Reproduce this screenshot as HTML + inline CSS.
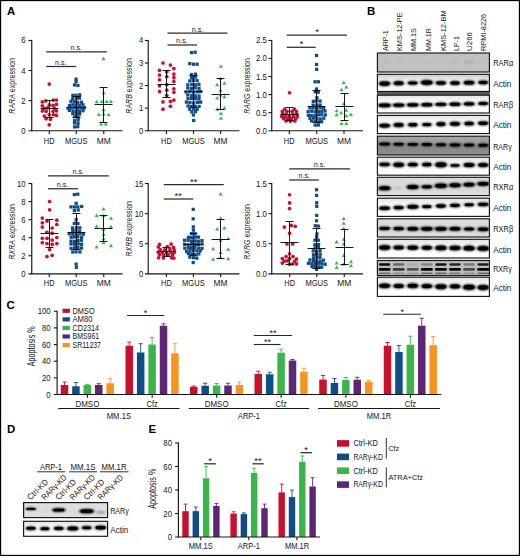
<!DOCTYPE html>
<html><head><meta charset="utf-8"><title>Figure</title>
<style>html,body{margin:0;padding:0;background:#fff;}svg{display:block;font-family:"Liberation Sans",sans-serif;}</style></head><body>
<svg width="520" height="556" viewBox="0 0 520 556">
<defs><filter id="b1" x="-20%" y="-60%" width="140%" height="220%"><feGaussianBlur stdDeviation="0.85"/></filter><filter id="b0" x="-20%" y="-60%" width="140%" height="220%"><feGaussianBlur stdDeviation="0.45"/></filter><filter id="b2" x="-20%" y="-60%" width="140%" height="220%"><feGaussianBlur stdDeviation="1.1"/></filter></defs>
<rect x="0" y="0" width="520" height="556" fill="#fff"/>
<rect x="0.575" y="0.575" width="518.85" height="554.85" fill="none" stroke="#000" stroke-width="1.15"/>
<text x="7" y="15.2" font-size="11.4" text-anchor="start" fill="#000" font-weight="bold" >A</text>
<text x="366.9" y="15.2" font-size="11.4" text-anchor="start" fill="#000" font-weight="bold" >B</text>
<text x="6.6" y="309.3" font-size="11.4" text-anchor="start" fill="#000" font-weight="bold" >C</text>
<text x="7.1" y="432.8" font-size="11.4" text-anchor="start" fill="#000" font-weight="bold" >D</text>
<text x="148.5" y="433.2" font-size="11.4" text-anchor="start" fill="#000" font-weight="bold" >E</text>
<g transform="translate(0 0.45)">
<circle cx="49.22" cy="83.67" r="1.85" fill="#C8102E"/>
<circle cx="42.3" cy="101.49" r="1.85" fill="#C8102E"/>
<circle cx="45.76" cy="100.45" r="1.85" fill="#C8102E"/>
<circle cx="53.38" cy="99.58" r="1.85" fill="#C8102E"/>
<circle cx="56.49" cy="99.58" r="1.85" fill="#C8102E"/>
<circle cx="42.3" cy="105.29" r="1.85" fill="#C8102E"/>
<circle cx="49.22" cy="104.43" r="1.85" fill="#C8102E"/>
<circle cx="53.03" cy="104.95" r="1.85" fill="#C8102E"/>
<circle cx="56.49" cy="103.91" r="1.85" fill="#C8102E"/>
<circle cx="44.03" cy="107.89" r="1.85" fill="#C8102E"/>
<circle cx="47.49" cy="107.37" r="1.85" fill="#C8102E"/>
<circle cx="54.42" cy="107.89" r="1.85" fill="#C8102E"/>
<circle cx="42.3" cy="110.48" r="1.85" fill="#C8102E"/>
<circle cx="46.11" cy="110.83" r="1.85" fill="#C8102E"/>
<circle cx="53.03" cy="110.83" r="1.85" fill="#C8102E"/>
<circle cx="56.49" cy="110.48" r="1.85" fill="#C8102E"/>
<circle cx="44.38" cy="115.67" r="1.85" fill="#C8102E"/>
<circle cx="49.22" cy="114.29" r="1.85" fill="#C8102E"/>
<circle cx="53.38" cy="114.29" r="1.85" fill="#C8102E"/>
<circle cx="56.49" cy="114.98" r="1.85" fill="#C8102E"/>
<circle cx="46.11" cy="118.27" r="1.85" fill="#C8102E"/>
<circle cx="50.44" cy="118.79" r="1.85" fill="#C8102E"/>
<circle cx="49.22" cy="124.33" r="1.85" fill="#C8102E"/>
<rect x="74.45" y="77.09" width="3.25" height="3.25" fill="#0F4D86"/>
<rect x="74.41" y="79.71" width="3.25" height="3.25" fill="#0F4D86"/>
<rect x="72.88" y="82.86" width="3.25" height="3.25" fill="#0F4D86"/>
<rect x="76.3" y="83.43" width="3.25" height="3.25" fill="#0F4D86"/>
<rect x="71.24" y="93.23" width="3.25" height="3.25" fill="#0F4D86"/>
<rect x="74.42" y="93.19" width="3.25" height="3.25" fill="#0F4D86"/>
<rect x="78.14" y="92.77" width="3.25" height="3.25" fill="#0F4D86"/>
<rect x="71.14" y="96.59" width="3.25" height="3.25" fill="#0F4D86"/>
<rect x="74.85" y="95.98" width="3.25" height="3.25" fill="#0F4D86"/>
<rect x="77.92" y="96.04" width="3.25" height="3.25" fill="#0F4D86"/>
<rect x="69.37" y="99.32" width="3.25" height="3.25" fill="#0F4D86"/>
<rect x="72.84" y="99.47" width="3.25" height="3.25" fill="#0F4D86"/>
<rect x="76.11" y="100.32" width="3.25" height="3.25" fill="#0F4D86"/>
<rect x="79.81" y="100.13" width="3.25" height="3.25" fill="#0F4D86"/>
<rect x="67.97" y="103.29" width="3.25" height="3.25" fill="#0F4D86"/>
<rect x="71.21" y="102.74" width="3.25" height="3.25" fill="#0F4D86"/>
<rect x="74.41" y="102.85" width="3.25" height="3.25" fill="#0F4D86"/>
<rect x="77.83" y="103.43" width="3.25" height="3.25" fill="#0F4D86"/>
<rect x="81.29" y="102.69" width="3.25" height="3.25" fill="#0F4D86"/>
<rect x="66.29" y="106.14" width="3.25" height="3.25" fill="#0F4D86"/>
<rect x="69.5" y="105.97" width="3.25" height="3.25" fill="#0F4D86"/>
<rect x="73.05" y="105.56" width="3.25" height="3.25" fill="#0F4D86"/>
<rect x="76.34" y="106.22" width="3.25" height="3.25" fill="#0F4D86"/>
<rect x="79.84" y="105.88" width="3.25" height="3.25" fill="#0F4D86"/>
<rect x="82.89" y="105.64" width="3.25" height="3.25" fill="#0F4D86"/>
<rect x="67.73" y="108.34" width="3.25" height="3.25" fill="#0F4D86"/>
<rect x="71.4" y="109.02" width="3.25" height="3.25" fill="#0F4D86"/>
<rect x="74.62" y="109.34" width="3.25" height="3.25" fill="#0F4D86"/>
<rect x="78.06" y="109.47" width="3.25" height="3.25" fill="#0F4D86"/>
<rect x="81.36" y="108.6" width="3.25" height="3.25" fill="#0F4D86"/>
<rect x="71.18" y="111.63" width="3.25" height="3.25" fill="#0F4D86"/>
<rect x="74.67" y="111.84" width="3.25" height="3.25" fill="#0F4D86"/>
<rect x="77.95" y="111.98" width="3.25" height="3.25" fill="#0F4D86"/>
<rect x="73.17" y="114.68" width="3.25" height="3.25" fill="#0F4D86"/>
<rect x="76.38" y="115.12" width="3.25" height="3.25" fill="#0F4D86"/>
<rect x="73.05" y="118.62" width="3.25" height="3.25" fill="#0F4D86"/>
<rect x="76.55" y="117.92" width="3.25" height="3.25" fill="#0F4D86"/>
<rect x="72.84" y="120.87" width="3.25" height="3.25" fill="#0F4D86"/>
<rect x="76.38" y="121.39" width="3.25" height="3.25" fill="#0F4D86"/>
<rect x="72.93" y="124.84" width="3.25" height="3.25" fill="#0F4D86"/>
<rect x="76.11" y="124.66" width="3.25" height="3.25" fill="#0F4D86"/>
<path d="M103.55 56.29 L105.6 59.8 L101.5 59.8 Z" fill="#3BB54A"/>
<path d="M103.55 90.37 L105.6 93.88 L101.5 93.88 Z" fill="#3BB54A"/>
<path d="M96.63 99.36 L98.68 102.87 L94.58 102.87 Z" fill="#3BB54A"/>
<path d="M101.82 99.02 L103.87 102.53 L99.77 102.53 Z" fill="#3BB54A"/>
<path d="M106.66 99.02 L108.71 102.53 L104.61 102.53 Z" fill="#3BB54A"/>
<path d="M110.99 99.02 L113.04 102.53 L108.94 102.53 Z" fill="#3BB54A"/>
<path d="M98.88 111.99 L100.93 115.5 L96.83 115.5 Z" fill="#3BB54A"/>
<path d="M103.55 107.32 L105.6 110.83 L101.5 110.83 Z" fill="#3BB54A"/>
<path d="M103.55 111.65 L105.6 115.16 L101.5 115.16 Z" fill="#3BB54A"/>
<path d="M108.74 112.34 L110.79 115.85 L106.69 115.85 Z" fill="#3BB54A"/>
<path d="M101.13 121.51 L103.18 125.02 L99.08 125.02 Z" fill="#3BB54A"/>
<path d="M105.8 121.51 L107.85 125.02 L103.75 125.02 Z" fill="#3BB54A"/>
<line x1="49.5" y1="117.05" x2="49.5" y2="100.05" stroke="#000" stroke-width="0.9" />
<line x1="40.5" y1="108.05" x2="58.5" y2="108.05" stroke="#000" stroke-width="0.9" />
<line x1="45.5" y1="117.05" x2="53.5" y2="117.05" stroke="#000" stroke-width="0.9" />
<line x1="45.5" y1="100.05" x2="53.5" y2="100.05" stroke="#000" stroke-width="0.9" />
<line x1="76.5" y1="117.05" x2="76.5" y2="96.05" stroke="#000" stroke-width="0.9" />
<line x1="67.5" y1="107.05" x2="85.5" y2="107.05" stroke="#000" stroke-width="0.9" />
<line x1="72.5" y1="117.05" x2="80.5" y2="117.05" stroke="#000" stroke-width="0.9" />
<line x1="72.5" y1="96.05" x2="80.5" y2="96.05" stroke="#000" stroke-width="0.9" />
<line x1="103.5" y1="122.05" x2="103.5" y2="87.05" stroke="#000" stroke-width="0.9" />
<line x1="94.5" y1="104.05" x2="112.5" y2="104.05" stroke="#000" stroke-width="0.9" />
<line x1="99.5" y1="122.05" x2="107.5" y2="122.05" stroke="#000" stroke-width="0.9" />
<line x1="99.5" y1="87.05" x2="107.5" y2="87.05" stroke="#000" stroke-width="0.9" />
<line x1="31.75" y1="39.5" x2="31.75" y2="130.75" stroke="#161616" stroke-width="1.15" />
<line x1="28.45" y1="130.25" x2="122.5" y2="130.25" stroke="#161616" stroke-width="1.15" />
<text x="25.6" y="133.25" font-size="8.4" text-anchor="end" fill="#161616" textLength="4.32" lengthAdjust="spacingAndGlyphs" >0</text>
<line x1="28.45" y1="100.17" x2="31.75" y2="100.17" stroke="#161616" stroke-width="1.1" />
<text x="25.6" y="103.17" font-size="8.4" text-anchor="end" fill="#161616" textLength="4.32" lengthAdjust="spacingAndGlyphs" >2</text>
<line x1="28.45" y1="70.08" x2="31.75" y2="70.08" stroke="#161616" stroke-width="1.1" />
<text x="25.6" y="73.08" font-size="8.4" text-anchor="end" fill="#161616" textLength="4.32" lengthAdjust="spacingAndGlyphs" >4</text>
<line x1="28.45" y1="40" x2="31.75" y2="40" stroke="#161616" stroke-width="1.1" />
<text x="25.6" y="43" font-size="8.4" text-anchor="end" fill="#161616" textLength="4.32" lengthAdjust="spacingAndGlyphs" >6</text>
<line x1="49.25" y1="130.25" x2="49.25" y2="133.45" stroke="#161616" stroke-width="1.1" />
<text x="49.25" y="143.2" font-size="8.4" text-anchor="middle" fill="#161616" textLength="10.8" lengthAdjust="spacingAndGlyphs" >HD</text>
<line x1="76.25" y1="130.25" x2="76.25" y2="133.45" stroke="#161616" stroke-width="1.1" />
<text x="76.25" y="143.2" font-size="8.4" text-anchor="middle" fill="#161616" textLength="22.6" lengthAdjust="spacingAndGlyphs" >MGUS</text>
<line x1="103.75" y1="130.25" x2="103.75" y2="133.45" stroke="#161616" stroke-width="1.1" />
<text x="103.75" y="143.2" font-size="8.4" text-anchor="middle" fill="#161616" textLength="14" lengthAdjust="spacingAndGlyphs" >MM</text>
<text transform="translate(15 85.5) rotate(-90)" font-size="9.8" text-anchor="middle" fill="#161616" textLength="55.5" lengthAdjust="spacingAndGlyphs"><tspan font-style="italic">RARA</tspan> expression</text>
</g>
<line x1="46.2" y1="51.9" x2="106.8" y2="51.9" stroke="#2c2c2c" stroke-width="1.25" />
<text x="76.25" y="49.9" font-size="7.6" text-anchor="middle" fill="#161616" textLength="11.5" lengthAdjust="spacingAndGlyphs" >n.s.</text>
<line x1="46.2" y1="66.5" x2="75.9" y2="66.5" stroke="#2c2c2c" stroke-width="1.25" />
<text x="60.75" y="64.5" font-size="7.6" text-anchor="middle" fill="#161616" textLength="11.5" lengthAdjust="spacingAndGlyphs" >n.s.</text>
<g transform="translate(0.7 0.45)">
<circle cx="162.28" cy="62.56" r="1.85" fill="#C8102E"/>
<circle cx="169.72" cy="64.64" r="1.85" fill="#C8102E"/>
<circle cx="173.18" cy="68.1" r="1.85" fill="#C8102E"/>
<circle cx="158.82" cy="69.83" r="1.85" fill="#C8102E"/>
<circle cx="166.08" cy="71.56" r="1.85" fill="#C8102E"/>
<circle cx="173.18" cy="73.63" r="1.85" fill="#C8102E"/>
<circle cx="158.82" cy="74.67" r="1.85" fill="#C8102E"/>
<circle cx="166.08" cy="76.23" r="1.85" fill="#C8102E"/>
<circle cx="173.18" cy="77.27" r="1.85" fill="#C8102E"/>
<circle cx="158.82" cy="79.34" r="1.85" fill="#C8102E"/>
<circle cx="173.18" cy="81.07" r="1.85" fill="#C8102E"/>
<circle cx="166.08" cy="84.19" r="1.85" fill="#C8102E"/>
<circle cx="158.82" cy="85.4" r="1.85" fill="#C8102E"/>
<circle cx="173.18" cy="88.34" r="1.85" fill="#C8102E"/>
<circle cx="166.08" cy="89.72" r="1.85" fill="#C8102E"/>
<circle cx="158.82" cy="91.11" r="1.85" fill="#C8102E"/>
<circle cx="173.18" cy="91.8" r="1.85" fill="#C8102E"/>
<circle cx="166.08" cy="94.91" r="1.85" fill="#C8102E"/>
<circle cx="173.18" cy="99.58" r="1.85" fill="#C8102E"/>
<circle cx="162.28" cy="101.49" r="1.85" fill="#C8102E"/>
<circle cx="169.72" cy="100.97" r="1.85" fill="#C8102E"/>
<circle cx="169.72" cy="105.81" r="1.85" fill="#C8102E"/>
<circle cx="162.28" cy="108.75" r="1.85" fill="#C8102E"/>
<rect x="189.18" y="50.54" width="3.25" height="3.25" fill="#0F4D86"/>
<rect x="192.79" y="50.15" width="3.25" height="3.25" fill="#0F4D86"/>
<rect x="187.46" y="61.57" width="3.25" height="3.25" fill="#0F4D86"/>
<rect x="191.18" y="62.14" width="3.25" height="3.25" fill="#0F4D86"/>
<rect x="194.79" y="62.17" width="3.25" height="3.25" fill="#0F4D86"/>
<rect x="189.15" y="72.51" width="3.25" height="3.25" fill="#0F4D86"/>
<rect x="193.16" y="72.08" width="3.25" height="3.25" fill="#0F4D86"/>
<rect x="189.21" y="75.6" width="3.25" height="3.25" fill="#0F4D86"/>
<rect x="193.22" y="75" width="3.25" height="3.25" fill="#0F4D86"/>
<rect x="187.47" y="78.89" width="3.25" height="3.25" fill="#0F4D86"/>
<rect x="190.95" y="78.42" width="3.25" height="3.25" fill="#0F4D86"/>
<rect x="194.72" y="78.56" width="3.25" height="3.25" fill="#0F4D86"/>
<rect x="185.51" y="82.8" width="3.25" height="3.25" fill="#0F4D86"/>
<rect x="189.51" y="82.6" width="3.25" height="3.25" fill="#0F4D86"/>
<rect x="193.04" y="82.76" width="3.25" height="3.25" fill="#0F4D86"/>
<rect x="196.59" y="82.21" width="3.25" height="3.25" fill="#0F4D86"/>
<rect x="185.48" y="85.92" width="3.25" height="3.25" fill="#0F4D86"/>
<rect x="189.2" y="86.51" width="3.25" height="3.25" fill="#0F4D86"/>
<rect x="192.96" y="85.77" width="3.25" height="3.25" fill="#0F4D86"/>
<rect x="196.69" y="86.2" width="3.25" height="3.25" fill="#0F4D86"/>
<rect x="183.77" y="89.87" width="3.25" height="3.25" fill="#0F4D86"/>
<rect x="187.62" y="89.46" width="3.25" height="3.25" fill="#0F4D86"/>
<rect x="191.21" y="90.12" width="3.25" height="3.25" fill="#0F4D86"/>
<rect x="195.01" y="89.79" width="3.25" height="3.25" fill="#0F4D86"/>
<rect x="198.37" y="89.54" width="3.25" height="3.25" fill="#0F4D86"/>
<rect x="185.51" y="92.85" width="3.25" height="3.25" fill="#0F4D86"/>
<rect x="189.48" y="93.53" width="3.25" height="3.25" fill="#0F4D86"/>
<rect x="192.99" y="93.85" width="3.25" height="3.25" fill="#0F4D86"/>
<rect x="196.73" y="93.98" width="3.25" height="3.25" fill="#0F4D86"/>
<rect x="185.74" y="96.49" width="3.25" height="3.25" fill="#0F4D86"/>
<rect x="189.26" y="96.36" width="3.25" height="3.25" fill="#0F4D86"/>
<rect x="193.05" y="96.58" width="3.25" height="3.25" fill="#0F4D86"/>
<rect x="196.63" y="96.72" width="3.25" height="3.25" fill="#0F4D86"/>
<rect x="184.1" y="100.01" width="3.25" height="3.25" fill="#0F4D86"/>
<rect x="187.61" y="100.45" width="3.25" height="3.25" fill="#0F4D86"/>
<rect x="191.28" y="100.95" width="3.25" height="3.25" fill="#0F4D86"/>
<rect x="195.07" y="100.25" width="3.25" height="3.25" fill="#0F4D86"/>
<rect x="198.37" y="100.04" width="3.25" height="3.25" fill="#0F4D86"/>
<rect x="185.78" y="103.94" width="3.25" height="3.25" fill="#0F4D86"/>
<rect x="189.33" y="104.38" width="3.25" height="3.25" fill="#0F4D86"/>
<rect x="192.81" y="104.2" width="3.25" height="3.25" fill="#0F4D86"/>
<rect x="196.78" y="104.34" width="3.25" height="3.25" fill="#0F4D86"/>
<rect x="187.4" y="107.18" width="3.25" height="3.25" fill="#0F4D86"/>
<rect x="191.36" y="106.87" width="3.25" height="3.25" fill="#0F4D86"/>
<rect x="194.8" y="107.24" width="3.25" height="3.25" fill="#0F4D86"/>
<rect x="189.54" y="109.84" width="3.25" height="3.25" fill="#0F4D86"/>
<rect x="193.18" y="109.51" width="3.25" height="3.25" fill="#0F4D86"/>
<rect x="191.13" y="112.87" width="3.25" height="3.25" fill="#0F4D86"/>
<rect x="191.37" y="118.42" width="3.25" height="3.25" fill="#0F4D86"/>
<path d="M220.23 63.9 L222.28 67.41 L218.18 67.41 Z" fill="#3BB54A"/>
<path d="M219.89 76.01 L221.94 79.52 L217.84 79.52 Z" fill="#3BB54A"/>
<path d="M216.43 82.24 L218.48 85.75 L214.38 85.75 Z" fill="#3BB54A"/>
<path d="M223.69 80.85 L225.74 84.36 L221.64 84.36 Z" fill="#3BB54A"/>
<path d="M219.89 87.77 L221.94 91.28 L217.84 91.28 Z" fill="#3BB54A"/>
<path d="M216.43 95.56 L218.48 99.07 L214.38 99.07 Z" fill="#3BB54A"/>
<path d="M223.69 94.17 L225.74 97.68 L221.64 97.68 Z" fill="#3BB54A"/>
<path d="M219.89 92.62 L221.94 96.13 L217.84 96.13 Z" fill="#3BB54A"/>
<path d="M216.43 106.8 L218.48 110.31 L214.38 110.31 Z" fill="#3BB54A"/>
<path d="M223.69 105.42 L225.74 108.93 L221.64 108.93 Z" fill="#3BB54A"/>
<path d="M220.23 111.13 L222.28 114.64 L218.18 114.64 Z" fill="#3BB54A"/>
<path d="M220.23 115.8 L222.28 119.31 L218.18 119.31 Z" fill="#3BB54A"/>
<line x1="165.8" y1="97.05" x2="165.8" y2="70.05" stroke="#000" stroke-width="0.9" />
<line x1="156.8" y1="84.05" x2="174.8" y2="84.05" stroke="#000" stroke-width="0.9" />
<line x1="161.8" y1="97.05" x2="169.8" y2="97.05" stroke="#000" stroke-width="0.9" />
<line x1="161.8" y1="70.05" x2="169.8" y2="70.05" stroke="#000" stroke-width="0.9" />
<line x1="192.8" y1="107.05" x2="192.8" y2="75.05" stroke="#000" stroke-width="0.9" />
<line x1="183.8" y1="91.05" x2="201.8" y2="91.05" stroke="#000" stroke-width="0.9" />
<line x1="188.8" y1="107.05" x2="196.8" y2="107.05" stroke="#000" stroke-width="0.9" />
<line x1="188.8" y1="75.05" x2="196.8" y2="75.05" stroke="#000" stroke-width="0.9" />
<line x1="219.8" y1="109.05" x2="219.8" y2="78.05" stroke="#000" stroke-width="0.9" />
<line x1="210.8" y1="94.05" x2="228.8" y2="94.05" stroke="#000" stroke-width="0.9" />
<line x1="215.8" y1="109.05" x2="223.8" y2="109.05" stroke="#000" stroke-width="0.9" />
<line x1="215.8" y1="78.05" x2="223.8" y2="78.05" stroke="#000" stroke-width="0.9" />
<line x1="147.5" y1="39.5" x2="147.5" y2="130.75" stroke="#161616" stroke-width="1.15" />
<line x1="144.2" y1="130.25" x2="238.75" y2="130.25" stroke="#161616" stroke-width="1.15" />
<text x="142.6" y="133.25" font-size="8.4" text-anchor="end" fill="#161616" textLength="4.32" lengthAdjust="spacingAndGlyphs" >0</text>
<line x1="144.2" y1="107.69" x2="147.5" y2="107.69" stroke="#161616" stroke-width="1.1" />
<text x="142.6" y="110.69" font-size="8.4" text-anchor="end" fill="#161616" textLength="4.32" lengthAdjust="spacingAndGlyphs" >1</text>
<line x1="144.2" y1="85.12" x2="147.5" y2="85.12" stroke="#161616" stroke-width="1.1" />
<text x="142.6" y="88.12" font-size="8.4" text-anchor="end" fill="#161616" textLength="4.32" lengthAdjust="spacingAndGlyphs" >2</text>
<line x1="144.2" y1="62.56" x2="147.5" y2="62.56" stroke="#161616" stroke-width="1.1" />
<text x="142.6" y="65.56" font-size="8.4" text-anchor="end" fill="#161616" textLength="4.32" lengthAdjust="spacingAndGlyphs" >3</text>
<line x1="144.2" y1="40" x2="147.5" y2="40" stroke="#161616" stroke-width="1.1" />
<text x="142.6" y="43" font-size="8.4" text-anchor="end" fill="#161616" textLength="4.32" lengthAdjust="spacingAndGlyphs" >4</text>
<line x1="165.7" y1="130.25" x2="165.7" y2="133.45" stroke="#161616" stroke-width="1.1" />
<text x="165.7" y="143.2" font-size="8.4" text-anchor="middle" fill="#161616" textLength="10.8" lengthAdjust="spacingAndGlyphs" >HD</text>
<line x1="192.8" y1="130.25" x2="192.8" y2="133.45" stroke="#161616" stroke-width="1.1" />
<text x="192.8" y="143.2" font-size="8.4" text-anchor="middle" fill="#161616" textLength="22.6" lengthAdjust="spacingAndGlyphs" >MGUS</text>
<line x1="219.9" y1="130.25" x2="219.9" y2="133.45" stroke="#161616" stroke-width="1.1" />
<text x="219.9" y="143.2" font-size="8.4" text-anchor="middle" fill="#161616" textLength="14" lengthAdjust="spacingAndGlyphs" >MM</text>
<text transform="translate(131.2 85.5) rotate(-90)" font-size="9.8" text-anchor="middle" fill="#161616" textLength="55.5" lengthAdjust="spacingAndGlyphs"><tspan font-style="italic">RARB</tspan> expression</text>
</g>
<line x1="167.5" y1="33" x2="227.5" y2="33" stroke="#2c2c2c" stroke-width="1.25" />
<text x="197.5" y="31.7" font-size="7.6" text-anchor="middle" fill="#161616" textLength="11.5" lengthAdjust="spacingAndGlyphs" >n.s.</text>
<line x1="167.5" y1="45" x2="197" y2="45" stroke="#2c2c2c" stroke-width="1.25" />
<text x="181.75" y="43.45" font-size="7.6" text-anchor="middle" fill="#161616" textLength="11.5" lengthAdjust="spacingAndGlyphs" >n.s.</text>
<g transform="translate(0.5 0.45)">
<circle cx="289.07" cy="92.32" r="1.85" fill="#C8102E"/>
<circle cx="284.23" cy="108.75" r="1.85" fill="#C8102E"/>
<circle cx="293.92" cy="108.75" r="1.85" fill="#C8102E"/>
<circle cx="281.8" cy="111" r="1.85" fill="#C8102E"/>
<circle cx="286.48" cy="110.83" r="1.85" fill="#C8102E"/>
<circle cx="291.67" cy="110.83" r="1.85" fill="#C8102E"/>
<circle cx="295.99" cy="111.18" r="1.85" fill="#C8102E"/>
<circle cx="282.15" cy="113.6" r="1.85" fill="#C8102E"/>
<circle cx="285.61" cy="113.43" r="1.85" fill="#C8102E"/>
<circle cx="292.53" cy="113.6" r="1.85" fill="#C8102E"/>
<circle cx="296.34" cy="113.77" r="1.85" fill="#C8102E"/>
<circle cx="281.29" cy="116.02" r="1.85" fill="#C8102E"/>
<circle cx="284.75" cy="116.19" r="1.85" fill="#C8102E"/>
<circle cx="288.72" cy="115.85" r="1.85" fill="#C8102E"/>
<circle cx="292.88" cy="116.02" r="1.85" fill="#C8102E"/>
<circle cx="296.86" cy="116.19" r="1.85" fill="#C8102E"/>
<circle cx="283.02" cy="118.27" r="1.85" fill="#C8102E"/>
<circle cx="286.99" cy="118.44" r="1.85" fill="#C8102E"/>
<circle cx="290.8" cy="118.27" r="1.85" fill="#C8102E"/>
<circle cx="295.13" cy="118.44" r="1.85" fill="#C8102E"/>
<circle cx="285.61" cy="120.52" r="1.85" fill="#C8102E"/>
<circle cx="289.94" cy="120.69" r="1.85" fill="#C8102E"/>
<circle cx="294.26" cy="120.52" r="1.85" fill="#C8102E"/>
<rect x="314.45" y="53.39" width="3.25" height="3.25" fill="#0F4D86"/>
<rect x="314.41" y="62.38" width="3.25" height="3.25" fill="#0F4D86"/>
<rect x="314.56" y="67.21" width="3.25" height="3.25" fill="#0F4D86"/>
<rect x="312.93" y="79.7" width="3.25" height="3.25" fill="#0F4D86"/>
<rect x="316.29" y="79.72" width="3.25" height="3.25" fill="#0F4D86"/>
<rect x="314.42" y="86.9" width="3.25" height="3.25" fill="#0F4D86"/>
<rect x="313.09" y="89.73" width="3.25" height="3.25" fill="#0F4D86"/>
<rect x="316.19" y="90.09" width="3.25" height="3.25" fill="#0F4D86"/>
<rect x="314.85" y="95.62" width="3.25" height="3.25" fill="#0F4D86"/>
<rect x="311.17" y="99.29" width="3.25" height="3.25" fill="#0F4D86"/>
<rect x="314.4" y="98.81" width="3.25" height="3.25" fill="#0F4D86"/>
<rect x="317.92" y="98.95" width="3.25" height="3.25" fill="#0F4D86"/>
<rect x="311.03" y="103.06" width="3.25" height="3.25" fill="#0F4D86"/>
<rect x="314.78" y="102.86" width="3.25" height="3.25" fill="#0F4D86"/>
<rect x="318.07" y="103.02" width="3.25" height="3.25" fill="#0F4D86"/>
<rect x="307.76" y="105.72" width="3.25" height="3.25" fill="#0F4D86"/>
<rect x="311.01" y="105.82" width="3.25" height="3.25" fill="#0F4D86"/>
<rect x="314.48" y="106.41" width="3.25" height="3.25" fill="#0F4D86"/>
<rect x="317.99" y="105.67" width="3.25" height="3.25" fill="#0F4D86"/>
<rect x="321.47" y="106.11" width="3.25" height="3.25" fill="#0F4D86"/>
<rect x="306.02" y="109.55" width="3.25" height="3.25" fill="#0F4D86"/>
<rect x="309.62" y="109.14" width="3.25" height="3.25" fill="#0F4D86"/>
<rect x="312.96" y="109.8" width="3.25" height="3.25" fill="#0F4D86"/>
<rect x="316.51" y="109.46" width="3.25" height="3.25" fill="#0F4D86"/>
<rect x="319.62" y="109.22" width="3.25" height="3.25" fill="#0F4D86"/>
<rect x="322.93" y="108.92" width="3.25" height="3.25" fill="#0F4D86"/>
<rect x="306.25" y="113.2" width="3.25" height="3.25" fill="#0F4D86"/>
<rect x="309.52" y="113.52" width="3.25" height="3.25" fill="#0F4D86"/>
<rect x="313.01" y="113.65" width="3.25" height="3.25" fill="#0F4D86"/>
<rect x="316.36" y="112.78" width="3.25" height="3.25" fill="#0F4D86"/>
<rect x="319.63" y="112.65" width="3.25" height="3.25" fill="#0F4D86"/>
<rect x="323.17" y="112.87" width="3.25" height="3.25" fill="#0F4D86"/>
<rect x="307.8" y="116.26" width="3.25" height="3.25" fill="#0F4D86"/>
<rect x="311.45" y="115.94" width="3.25" height="3.25" fill="#0F4D86"/>
<rect x="314.71" y="116.38" width="3.25" height="3.25" fill="#0F4D86"/>
<rect x="318.13" y="116.88" width="3.25" height="3.25" fill="#0F4D86"/>
<rect x="321.67" y="116.17" width="3.25" height="3.25" fill="#0F4D86"/>
<rect x="309.42" y="118.85" width="3.25" height="3.25" fill="#0F4D86"/>
<rect x="313.01" y="119.38" width="3.25" height="3.25" fill="#0F4D86"/>
<rect x="316.31" y="119.81" width="3.25" height="3.25" fill="#0F4D86"/>
<rect x="319.53" y="119.64" width="3.25" height="3.25" fill="#0F4D86"/>
<rect x="313.06" y="123.02" width="3.25" height="3.25" fill="#0F4D86"/>
<rect x="316.2" y="122.93" width="3.25" height="3.25" fill="#0F4D86"/>
<path d="M343.22 79.99 L345.27 83.5 L341.17 83.5 Z" fill="#3BB54A"/>
<path d="M345.82 84.66 L347.87 88.17 L343.77 88.17 Z" fill="#3BB54A"/>
<path d="M340.97 87.25 L343.02 90.76 L338.92 90.76 Z" fill="#3BB54A"/>
<path d="M343.22 101.27 L345.27 104.78 L341.17 104.78 Z" fill="#3BB54A"/>
<path d="M336.13 108.19 L338.18 111.7 L334.08 111.7 Z" fill="#3BB54A"/>
<path d="M345.82 107.67 L347.87 111.18 L343.77 111.18 Z" fill="#3BB54A"/>
<path d="M340.63 110.26 L342.68 113.77 L338.58 113.77 Z" fill="#3BB54A"/>
<path d="M336.13 112.34 L338.18 115.85 L334.08 115.85 Z" fill="#3BB54A"/>
<path d="M345.82 113.21 L347.87 116.72 L343.77 116.72 Z" fill="#3BB54A"/>
<path d="M350.49 111.99 L352.54 115.5 L348.44 115.5 Z" fill="#3BB54A"/>
<path d="M340.97 121.16 L343.02 124.67 L338.92 124.67 Z" fill="#3BB54A"/>
<path d="M345.82 121.16 L347.87 124.67 L343.77 124.67 Z" fill="#3BB54A"/>
<line x1="289" y1="120.05" x2="289" y2="107.05" stroke="#000" stroke-width="0.9" />
<line x1="280" y1="114.05" x2="298" y2="114.05" stroke="#000" stroke-width="0.9" />
<line x1="285" y1="120.05" x2="293" y2="120.05" stroke="#000" stroke-width="0.9" />
<line x1="285" y1="107.05" x2="293" y2="107.05" stroke="#000" stroke-width="0.9" />
<line x1="316" y1="122.05" x2="316" y2="90.05" stroke="#000" stroke-width="0.9" />
<line x1="307" y1="106.05" x2="325" y2="106.05" stroke="#000" stroke-width="0.9" />
<line x1="312" y1="122.05" x2="320" y2="122.05" stroke="#000" stroke-width="0.9" />
<line x1="312" y1="90.05" x2="320" y2="90.05" stroke="#000" stroke-width="0.9" />
<line x1="344" y1="120.05" x2="344" y2="93.05" stroke="#000" stroke-width="0.9" />
<line x1="335" y1="106.05" x2="353" y2="106.05" stroke="#000" stroke-width="0.9" />
<line x1="340" y1="120.05" x2="348" y2="120.05" stroke="#000" stroke-width="0.9" />
<line x1="340" y1="93.05" x2="348" y2="93.05" stroke="#000" stroke-width="0.9" />
<line x1="271.25" y1="39.5" x2="271.25" y2="130.75" stroke="#161616" stroke-width="1.15" />
<line x1="267.95" y1="130.25" x2="362.5" y2="130.25" stroke="#161616" stroke-width="1.15" />
<text x="266.4" y="133.25" font-size="8.4" text-anchor="end" fill="#161616" textLength="10.8" lengthAdjust="spacingAndGlyphs" >0.0</text>
<line x1="267.95" y1="112.2" x2="271.25" y2="112.2" stroke="#161616" stroke-width="1.1" />
<text x="266.4" y="115.2" font-size="8.4" text-anchor="end" fill="#161616" textLength="10.8" lengthAdjust="spacingAndGlyphs" >0.5</text>
<line x1="267.95" y1="94.15" x2="271.25" y2="94.15" stroke="#161616" stroke-width="1.1" />
<text x="266.4" y="97.15" font-size="8.4" text-anchor="end" fill="#161616" textLength="10.8" lengthAdjust="spacingAndGlyphs" >1.0</text>
<line x1="267.95" y1="76.1" x2="271.25" y2="76.1" stroke="#161616" stroke-width="1.1" />
<text x="266.4" y="79.1" font-size="8.4" text-anchor="end" fill="#161616" textLength="10.8" lengthAdjust="spacingAndGlyphs" >1.5</text>
<line x1="267.95" y1="58.05" x2="271.25" y2="58.05" stroke="#161616" stroke-width="1.1" />
<text x="266.4" y="61.05" font-size="8.4" text-anchor="end" fill="#161616" textLength="10.8" lengthAdjust="spacingAndGlyphs" >2.0</text>
<line x1="267.95" y1="40" x2="271.25" y2="40" stroke="#161616" stroke-width="1.1" />
<text x="266.4" y="43" font-size="8.4" text-anchor="end" fill="#161616" textLength="10.8" lengthAdjust="spacingAndGlyphs" >2.5</text>
<line x1="288.75" y1="130.25" x2="288.75" y2="133.45" stroke="#161616" stroke-width="1.1" />
<text x="288.75" y="143.2" font-size="8.4" text-anchor="middle" fill="#161616" textLength="10.8" lengthAdjust="spacingAndGlyphs" >HD</text>
<line x1="316.25" y1="130.25" x2="316.25" y2="133.45" stroke="#161616" stroke-width="1.1" />
<text x="316.25" y="143.2" font-size="8.4" text-anchor="middle" fill="#161616" textLength="22.6" lengthAdjust="spacingAndGlyphs" >MGUS</text>
<line x1="343.5" y1="130.25" x2="343.5" y2="133.45" stroke="#161616" stroke-width="1.1" />
<text x="343.5" y="143.2" font-size="8.4" text-anchor="middle" fill="#161616" textLength="14" lengthAdjust="spacingAndGlyphs" >MM</text>
<text transform="translate(249 85.5) rotate(-90)" font-size="9.8" text-anchor="middle" fill="#161616" textLength="55.5" lengthAdjust="spacingAndGlyphs"><tspan font-style="italic">RARG</tspan> expression</text>
</g>
<line x1="286.75" y1="35" x2="347" y2="35" stroke="#2c2c2c" stroke-width="1.25" />
<text x="317" y="34.95" font-size="9.5" text-anchor="middle" fill="#161616" >*</text>
<line x1="286.75" y1="47.3" x2="315.75" y2="47.3" stroke="#2c2c2c" stroke-width="1.25" />
<text x="301.25" y="46.9" font-size="9.5" text-anchor="middle" fill="#161616" >*</text>
<g transform="translate(0 0.3)">
<circle cx="49.57" cy="201.21" r="1.85" fill="#C8102E"/>
<circle cx="49.57" cy="209.52" r="1.85" fill="#C8102E"/>
<circle cx="42.3" cy="217.82" r="1.85" fill="#C8102E"/>
<circle cx="46.98" cy="220.76" r="1.85" fill="#C8102E"/>
<circle cx="56.84" cy="219.9" r="1.85" fill="#C8102E"/>
<circle cx="42.3" cy="222.49" r="1.85" fill="#C8102E"/>
<circle cx="56.84" cy="224.22" r="1.85" fill="#C8102E"/>
<circle cx="42.3" cy="226.82" r="1.85" fill="#C8102E"/>
<circle cx="52.17" cy="227.68" r="1.85" fill="#C8102E"/>
<circle cx="46.98" cy="232.01" r="1.85" fill="#C8102E"/>
<circle cx="52.17" cy="232.87" r="1.85" fill="#C8102E"/>
<circle cx="42.3" cy="238.06" r="1.85" fill="#C8102E"/>
<circle cx="56.84" cy="237.2" r="1.85" fill="#C8102E"/>
<circle cx="46.98" cy="238.06" r="1.85" fill="#C8102E"/>
<circle cx="52.17" cy="239.79" r="1.85" fill="#C8102E"/>
<circle cx="42.3" cy="242.39" r="1.85" fill="#C8102E"/>
<circle cx="56.84" cy="243.25" r="1.85" fill="#C8102E"/>
<circle cx="46.98" cy="243.25" r="1.85" fill="#C8102E"/>
<circle cx="52.17" cy="244.12" r="1.85" fill="#C8102E"/>
<circle cx="49.57" cy="249.31" r="1.85" fill="#C8102E"/>
<circle cx="46.98" cy="256.23" r="1.85" fill="#C8102E"/>
<circle cx="52.17" cy="255.02" r="1.85" fill="#C8102E"/>
<rect x="72.7" y="192.67" width="3.25" height="3.25" fill="#0F4D86"/>
<rect x="76.16" y="192.27" width="3.25" height="3.25" fill="#0F4D86"/>
<rect x="74.56" y="201.35" width="3.25" height="3.25" fill="#0F4D86"/>
<rect x="69.38" y="204.99" width="3.25" height="3.25" fill="#0F4D86"/>
<rect x="72.84" y="205.01" width="3.25" height="3.25" fill="#0F4D86"/>
<rect x="76.17" y="204.97" width="3.25" height="3.25" fill="#0F4D86"/>
<rect x="80.04" y="204.55" width="3.25" height="3.25" fill="#0F4D86"/>
<rect x="72.74" y="208.7" width="3.25" height="3.25" fill="#0F4D86"/>
<rect x="76.6" y="208.1" width="3.25" height="3.25" fill="#0F4D86"/>
<rect x="74.57" y="217.81" width="3.25" height="3.25" fill="#0F4D86"/>
<rect x="72.65" y="221.49" width="3.25" height="3.25" fill="#0F4D86"/>
<rect x="76.27" y="221.63" width="3.25" height="3.25" fill="#0F4D86"/>
<rect x="70.93" y="226" width="3.25" height="3.25" fill="#0F4D86"/>
<rect x="74.78" y="225.81" width="3.25" height="3.25" fill="#0F4D86"/>
<rect x="78.17" y="225.96" width="3.25" height="3.25" fill="#0F4D86"/>
<rect x="71.06" y="228.75" width="3.25" height="3.25" fill="#0F4D86"/>
<rect x="74.41" y="228.86" width="3.25" height="3.25" fill="#0F4D86"/>
<rect x="77.98" y="229.44" width="3.25" height="3.25" fill="#0F4D86"/>
<rect x="67.59" y="231.77" width="3.25" height="3.25" fill="#0F4D86"/>
<rect x="71.17" y="232.21" width="3.25" height="3.25" fill="#0F4D86"/>
<rect x="74.52" y="232.04" width="3.25" height="3.25" fill="#0F4D86"/>
<rect x="78.22" y="231.63" width="3.25" height="3.25" fill="#0F4D86"/>
<rect x="81.66" y="232.29" width="3.25" height="3.25" fill="#0F4D86"/>
<rect x="69.56" y="235.29" width="3.25" height="3.25" fill="#0F4D86"/>
<rect x="72.77" y="235.05" width="3.25" height="3.25" fill="#0F4D86"/>
<rect x="76.18" y="234.75" width="3.25" height="3.25" fill="#0F4D86"/>
<rect x="80" y="235.42" width="3.25" height="3.25" fill="#0F4D86"/>
<rect x="69.37" y="239.26" width="3.25" height="3.25" fill="#0F4D86"/>
<rect x="72.96" y="239.4" width="3.25" height="3.25" fill="#0F4D86"/>
<rect x="76.41" y="238.53" width="3.25" height="3.25" fill="#0F4D86"/>
<rect x="79.78" y="238.39" width="3.25" height="3.25" fill="#0F4D86"/>
<rect x="69.42" y="242.13" width="3.25" height="3.25" fill="#0F4D86"/>
<rect x="72.85" y="242.27" width="3.25" height="3.25" fill="#0F4D86"/>
<rect x="76.6" y="241.96" width="3.25" height="3.25" fill="#0F4D86"/>
<rect x="79.96" y="242.39" width="3.25" height="3.25" fill="#0F4D86"/>
<rect x="69.48" y="246.5" width="3.25" height="3.25" fill="#0F4D86"/>
<rect x="73.12" y="245.8" width="3.25" height="3.25" fill="#0F4D86"/>
<rect x="76.27" y="245.59" width="3.25" height="3.25" fill="#0F4D86"/>
<rect x="79.96" y="246.11" width="3.25" height="3.25" fill="#0F4D86"/>
<rect x="71.11" y="250.07" width="3.25" height="3.25" fill="#0F4D86"/>
<rect x="74.43" y="249.89" width="3.25" height="3.25" fill="#0F4D86"/>
<rect x="78.26" y="250.02" width="3.25" height="3.25" fill="#0F4D86"/>
<rect x="74.5" y="262.21" width="3.25" height="3.25" fill="#0F4D86"/>
<rect x="74.81" y="265.42" width="3.25" height="3.25" fill="#0F4D86"/>
<path d="M103.55 206.7 L105.6 210.21 L101.5 210.21 Z" fill="#3BB54A"/>
<path d="M96.63 213.1 L98.68 216.61 L94.58 216.61 Z" fill="#3BB54A"/>
<path d="M103.55 213.1 L105.6 216.61 L101.5 216.61 Z" fill="#3BB54A"/>
<path d="M110.99 215.87 L113.04 219.38 L108.94 219.38 Z" fill="#3BB54A"/>
<path d="M96.63 224 L98.68 227.51 L94.58 227.51 Z" fill="#3BB54A"/>
<path d="M110.99 224.52 L113.04 228.03 L108.94 228.03 Z" fill="#3BB54A"/>
<path d="M103.55 226.94 L105.6 230.45 L101.5 230.45 Z" fill="#3BB54A"/>
<path d="M103.55 232.13 L105.6 235.64 L101.5 235.64 Z" fill="#3BB54A"/>
<path d="M103.55 236.46 L105.6 239.97 L101.5 239.97 Z" fill="#3BB54A"/>
<path d="M103.55 240.44 L105.6 243.95 L101.5 243.95 Z" fill="#3BB54A"/>
<path d="M96.63 244.76 L98.68 248.27 L94.58 248.27 Z" fill="#3BB54A"/>
<path d="M110.99 243.38 L113.04 246.89 L108.94 246.89 Z" fill="#3BB54A"/>
<line x1="49.5" y1="247.2" x2="49.5" y2="219.2" stroke="#000" stroke-width="0.9" />
<line x1="40.5" y1="233.2" x2="58.5" y2="233.2" stroke="#000" stroke-width="0.9" />
<line x1="45.5" y1="247.2" x2="53.5" y2="247.2" stroke="#000" stroke-width="0.9" />
<line x1="45.5" y1="219.2" x2="53.5" y2="219.2" stroke="#000" stroke-width="0.9" />
<line x1="76.5" y1="249.2" x2="76.5" y2="213.2" stroke="#000" stroke-width="0.9" />
<line x1="67.5" y1="232.2" x2="85.5" y2="232.2" stroke="#000" stroke-width="0.9" />
<line x1="72.5" y1="249.2" x2="80.5" y2="249.2" stroke="#000" stroke-width="0.9" />
<line x1="72.5" y1="213.2" x2="80.5" y2="213.2" stroke="#000" stroke-width="0.9" />
<line x1="103.5" y1="241.2" x2="103.5" y2="215.2" stroke="#000" stroke-width="0.9" />
<line x1="94.5" y1="228.2" x2="112.5" y2="228.2" stroke="#000" stroke-width="0.9" />
<line x1="99.5" y1="241.2" x2="107.5" y2="241.2" stroke="#000" stroke-width="0.9" />
<line x1="99.5" y1="215.2" x2="107.5" y2="215.2" stroke="#000" stroke-width="0.9" />
<line x1="31.75" y1="182.75" x2="31.75" y2="274" stroke="#161616" stroke-width="1.15" />
<line x1="28.45" y1="273.5" x2="122.5" y2="273.5" stroke="#161616" stroke-width="1.15" />
<text x="25.6" y="276.5" font-size="8.4" text-anchor="end" fill="#161616" textLength="4.32" lengthAdjust="spacingAndGlyphs" >0</text>
<line x1="28.45" y1="255.45" x2="31.75" y2="255.45" stroke="#161616" stroke-width="1.1" />
<text x="25.6" y="258.45" font-size="8.4" text-anchor="end" fill="#161616" textLength="4.32" lengthAdjust="spacingAndGlyphs" >2</text>
<line x1="28.45" y1="237.4" x2="31.75" y2="237.4" stroke="#161616" stroke-width="1.1" />
<text x="25.6" y="240.4" font-size="8.4" text-anchor="end" fill="#161616" textLength="4.32" lengthAdjust="spacingAndGlyphs" >4</text>
<line x1="28.45" y1="219.35" x2="31.75" y2="219.35" stroke="#161616" stroke-width="1.1" />
<text x="25.6" y="222.35" font-size="8.4" text-anchor="end" fill="#161616" textLength="4.32" lengthAdjust="spacingAndGlyphs" >6</text>
<line x1="28.45" y1="201.3" x2="31.75" y2="201.3" stroke="#161616" stroke-width="1.1" />
<text x="25.6" y="204.3" font-size="8.4" text-anchor="end" fill="#161616" textLength="4.32" lengthAdjust="spacingAndGlyphs" >8</text>
<line x1="28.45" y1="183.25" x2="31.75" y2="183.25" stroke="#161616" stroke-width="1.1" />
<text x="25.6" y="186.25" font-size="8.4" text-anchor="end" fill="#161616" textLength="8.64" lengthAdjust="spacingAndGlyphs" >10</text>
<line x1="49.25" y1="273.5" x2="49.25" y2="276.7" stroke="#161616" stroke-width="1.1" />
<text x="49.25" y="285.9" font-size="8.4" text-anchor="middle" fill="#161616" textLength="10.8" lengthAdjust="spacingAndGlyphs" >HD</text>
<line x1="76.25" y1="273.5" x2="76.25" y2="276.7" stroke="#161616" stroke-width="1.1" />
<text x="76.25" y="285.9" font-size="8.4" text-anchor="middle" fill="#161616" textLength="22.6" lengthAdjust="spacingAndGlyphs" >MGUS</text>
<line x1="103.75" y1="273.5" x2="103.75" y2="276.7" stroke="#161616" stroke-width="1.1" />
<text x="103.75" y="285.9" font-size="8.4" text-anchor="middle" fill="#161616" textLength="14" lengthAdjust="spacingAndGlyphs" >MM</text>
<text transform="translate(15 231.5) rotate(-90)" font-size="9.8" text-anchor="middle" fill="#161616" textLength="55.5" lengthAdjust="spacingAndGlyphs"><tspan font-style="italic">RXRA</tspan> expression</text>
</g>
<line x1="48" y1="175.75" x2="108.75" y2="175.75" stroke="#2c2c2c" stroke-width="1.25" />
<text x="78.25" y="174.2" font-size="7.6" text-anchor="middle" fill="#161616" textLength="11.5" lengthAdjust="spacingAndGlyphs" >n.s.</text>
<line x1="48" y1="188.75" x2="78" y2="188.75" stroke="#2c2c2c" stroke-width="1.25" />
<text x="62.5" y="186.7" font-size="7.6" text-anchor="middle" fill="#161616" textLength="11.5" lengthAdjust="spacingAndGlyphs" >n.s.</text>
<g transform="translate(0.7 0.3)">
<circle cx="158.82" cy="244.12" r="1.85" fill="#C8102E"/>
<circle cx="170.41" cy="243.77" r="1.85" fill="#C8102E"/>
<circle cx="157.6" cy="246.71" r="1.85" fill="#C8102E"/>
<circle cx="166.6" cy="246.37" r="1.85" fill="#C8102E"/>
<circle cx="172.66" cy="247.06" r="1.85" fill="#C8102E"/>
<circle cx="159.68" cy="249.31" r="1.85" fill="#C8102E"/>
<circle cx="164.01" cy="249.48" r="1.85" fill="#C8102E"/>
<circle cx="169.2" cy="249.14" r="1.85" fill="#C8102E"/>
<circle cx="173.52" cy="249.48" r="1.85" fill="#C8102E"/>
<circle cx="157.6" cy="251.9" r="1.85" fill="#C8102E"/>
<circle cx="161.41" cy="252.08" r="1.85" fill="#C8102E"/>
<circle cx="165.74" cy="251.9" r="1.85" fill="#C8102E"/>
<circle cx="170.06" cy="251.73" r="1.85" fill="#C8102E"/>
<circle cx="173.52" cy="252.25" r="1.85" fill="#C8102E"/>
<circle cx="158.82" cy="254.5" r="1.85" fill="#C8102E"/>
<circle cx="163.14" cy="254.67" r="1.85" fill="#C8102E"/>
<circle cx="167.47" cy="254.5" r="1.85" fill="#C8102E"/>
<circle cx="171.79" cy="254.67" r="1.85" fill="#C8102E"/>
<circle cx="157.95" cy="257.44" r="1.85" fill="#C8102E"/>
<circle cx="162.79" cy="257.61" r="1.85" fill="#C8102E"/>
<circle cx="170.93" cy="257.44" r="1.85" fill="#C8102E"/>
<circle cx="173.18" cy="257.79" r="1.85" fill="#C8102E"/>
<rect x="190.9" y="207.41" width="3.25" height="3.25" fill="#0F4D86"/>
<rect x="190.86" y="216.94" width="3.25" height="3.25" fill="#0F4D86"/>
<rect x="191.01" y="225.02" width="3.25" height="3.25" fill="#0F4D86"/>
<rect x="191.08" y="228.18" width="3.25" height="3.25" fill="#0F4D86"/>
<rect x="189.32" y="231.76" width="3.25" height="3.25" fill="#0F4D86"/>
<rect x="192.6" y="231.72" width="3.25" height="3.25" fill="#0F4D86"/>
<rect x="186.06" y="235.38" width="3.25" height="3.25" fill="#0F4D86"/>
<rect x="189.21" y="235.75" width="3.25" height="3.25" fill="#0F4D86"/>
<rect x="193.02" y="235.14" width="3.25" height="3.25" fill="#0F4D86"/>
<rect x="196.2" y="235.2" width="3.25" height="3.25" fill="#0F4D86"/>
<rect x="182.22" y="238.27" width="3.25" height="3.25" fill="#0F4D86"/>
<rect x="185.79" y="238.41" width="3.25" height="3.25" fill="#0F4D86"/>
<rect x="189.16" y="239.27" width="3.25" height="3.25" fill="#0F4D86"/>
<rect x="192.96" y="239.07" width="3.25" height="3.25" fill="#0F4D86"/>
<rect x="196.29" y="239.23" width="3.25" height="3.25" fill="#0F4D86"/>
<rect x="199.64" y="238.68" width="3.25" height="3.25" fill="#0F4D86"/>
<rect x="182.23" y="242.34" width="3.25" height="3.25" fill="#0F4D86"/>
<rect x="185.75" y="242.92" width="3.25" height="3.25" fill="#0F4D86"/>
<rect x="189.31" y="242.18" width="3.25" height="3.25" fill="#0F4D86"/>
<rect x="192.84" y="242.62" width="3.25" height="3.25" fill="#0F4D86"/>
<rect x="196.15" y="242.45" width="3.25" height="3.25" fill="#0F4D86"/>
<rect x="199.8" y="242.04" width="3.25" height="3.25" fill="#0F4D86"/>
<rect x="182.49" y="246.31" width="3.25" height="3.25" fill="#0F4D86"/>
<rect x="186.09" y="245.97" width="3.25" height="3.25" fill="#0F4D86"/>
<rect x="189.24" y="245.73" width="3.25" height="3.25" fill="#0F4D86"/>
<rect x="192.61" y="245.43" width="3.25" height="3.25" fill="#0F4D86"/>
<rect x="196.38" y="246.1" width="3.25" height="3.25" fill="#0F4D86"/>
<rect x="199.69" y="246.42" width="3.25" height="3.25" fill="#0F4D86"/>
<rect x="184.26" y="249.62" width="3.25" height="3.25" fill="#0F4D86"/>
<rect x="187.66" y="248.75" width="3.25" height="3.25" fill="#0F4D86"/>
<rect x="190.98" y="248.62" width="3.25" height="3.25" fill="#0F4D86"/>
<rect x="194.57" y="248.84" width="3.25" height="3.25" fill="#0F4D86"/>
<rect x="197.95" y="248.98" width="3.25" height="3.25" fill="#0F4D86"/>
<rect x="186.12" y="251.73" width="3.25" height="3.25" fill="#0F4D86"/>
<rect x="189.43" y="252.17" width="3.25" height="3.25" fill="#0F4D86"/>
<rect x="192.9" y="252.67" width="3.25" height="3.25" fill="#0F4D86"/>
<rect x="196.5" y="251.96" width="3.25" height="3.25" fill="#0F4D86"/>
<rect x="187.52" y="255.24" width="3.25" height="3.25" fill="#0F4D86"/>
<rect x="191.16" y="255.77" width="3.25" height="3.25" fill="#0F4D86"/>
<rect x="194.51" y="256.2" width="3.25" height="3.25" fill="#0F4D86"/>
<rect x="190.88" y="260.66" width="3.25" height="3.25" fill="#0F4D86"/>
<path d="M219.89 191.65 L221.94 195.16 L217.84 195.16 Z" fill="#3BB54A"/>
<path d="M219.89 215.87 L221.94 219.38 L217.84 219.38 Z" fill="#3BB54A"/>
<path d="M216.43 226.6 L218.48 230.11 L214.38 230.11 Z" fill="#3BB54A"/>
<path d="M223.69 225.73 L225.74 229.24 L221.64 229.24 Z" fill="#3BB54A"/>
<path d="M227.5 236.11 L229.55 239.62 L225.45 239.62 Z" fill="#3BB54A"/>
<path d="M219.89 237.84 L221.94 241.35 L217.84 241.35 Z" fill="#3BB54A"/>
<path d="M212.45 246.49 L214.5 250 L210.4 250 Z" fill="#3BB54A"/>
<path d="M227.5 246.84 L229.55 250.35 L225.45 250.35 Z" fill="#3BB54A"/>
<path d="M219.89 250.3 L221.94 253.81 L217.84 253.81 Z" fill="#3BB54A"/>
<path d="M212.45 256.87 L214.5 260.38 L210.4 260.38 Z" fill="#3BB54A"/>
<path d="M219.89 255.49 L221.94 259 L217.84 259 Z" fill="#3BB54A"/>
<path d="M227.5 256.53 L229.55 260.04 L225.45 260.04 Z" fill="#3BB54A"/>
<line x1="165.8" y1="256.2" x2="165.8" y2="247.2" stroke="#000" stroke-width="0.9" />
<line x1="156.8" y1="251.2" x2="174.8" y2="251.2" stroke="#000" stroke-width="0.9" />
<line x1="161.8" y1="256.2" x2="169.8" y2="256.2" stroke="#000" stroke-width="0.9" />
<line x1="161.8" y1="247.2" x2="169.8" y2="247.2" stroke="#000" stroke-width="0.9" />
<line x1="192.8" y1="255.2" x2="192.8" y2="233.2" stroke="#000" stroke-width="0.9" />
<line x1="183.8" y1="244.2" x2="201.8" y2="244.2" stroke="#000" stroke-width="0.9" />
<line x1="188.8" y1="255.2" x2="196.8" y2="255.2" stroke="#000" stroke-width="0.9" />
<line x1="188.8" y1="233.2" x2="196.8" y2="233.2" stroke="#000" stroke-width="0.9" />
<line x1="219.8" y1="258.2" x2="219.8" y2="219.2" stroke="#000" stroke-width="0.9" />
<line x1="210.8" y1="239.2" x2="228.8" y2="239.2" stroke="#000" stroke-width="0.9" />
<line x1="215.8" y1="258.2" x2="223.8" y2="258.2" stroke="#000" stroke-width="0.9" />
<line x1="215.8" y1="219.2" x2="223.8" y2="219.2" stroke="#000" stroke-width="0.9" />
<line x1="147.5" y1="182.75" x2="147.5" y2="274" stroke="#161616" stroke-width="1.15" />
<line x1="144.2" y1="273.5" x2="238.75" y2="273.5" stroke="#161616" stroke-width="1.15" />
<text x="142.6" y="276.5" font-size="8.4" text-anchor="end" fill="#161616" textLength="4.32" lengthAdjust="spacingAndGlyphs" >0</text>
<line x1="144.2" y1="243.42" x2="147.5" y2="243.42" stroke="#161616" stroke-width="1.1" />
<text x="142.6" y="246.42" font-size="8.4" text-anchor="end" fill="#161616" textLength="4.32" lengthAdjust="spacingAndGlyphs" >5</text>
<line x1="144.2" y1="213.33" x2="147.5" y2="213.33" stroke="#161616" stroke-width="1.1" />
<text x="142.6" y="216.33" font-size="8.4" text-anchor="end" fill="#161616" textLength="8.64" lengthAdjust="spacingAndGlyphs" >10</text>
<line x1="144.2" y1="183.25" x2="147.5" y2="183.25" stroke="#161616" stroke-width="1.1" />
<text x="142.6" y="186.25" font-size="8.4" text-anchor="end" fill="#161616" textLength="8.64" lengthAdjust="spacingAndGlyphs" >15</text>
<line x1="165.7" y1="273.5" x2="165.7" y2="276.7" stroke="#161616" stroke-width="1.1" />
<text x="165.7" y="285.9" font-size="8.4" text-anchor="middle" fill="#161616" textLength="10.8" lengthAdjust="spacingAndGlyphs" >HD</text>
<line x1="192.7" y1="273.5" x2="192.7" y2="276.7" stroke="#161616" stroke-width="1.1" />
<text x="192.7" y="285.9" font-size="8.4" text-anchor="middle" fill="#161616" textLength="22.6" lengthAdjust="spacingAndGlyphs" >MGUS</text>
<line x1="219.9" y1="273.5" x2="219.9" y2="276.7" stroke="#161616" stroke-width="1.1" />
<text x="219.9" y="285.9" font-size="8.4" text-anchor="middle" fill="#161616" textLength="14" lengthAdjust="spacingAndGlyphs" >MM</text>
<text transform="translate(131.2 228.5) rotate(-90)" font-size="9.8" text-anchor="middle" fill="#161616" textLength="55.5" lengthAdjust="spacingAndGlyphs"><tspan font-style="italic">RXRB</tspan> expression</text>
</g>
<line x1="163.75" y1="184.6" x2="223.75" y2="184.6" stroke="#2c2c2c" stroke-width="1.25" />
<text x="193.75" y="185.1" font-size="9.5" text-anchor="middle" fill="#161616" >**</text>
<line x1="163.75" y1="199" x2="193.25" y2="199" stroke="#2c2c2c" stroke-width="1.25" />
<text x="178.25" y="199.2" font-size="9.5" text-anchor="middle" fill="#161616" >**</text>
<g transform="translate(0.5 0.3)">
<circle cx="289.07" cy="194.46" r="1.85" fill="#C8102E"/>
<circle cx="289.07" cy="202.6" r="1.85" fill="#C8102E"/>
<circle cx="289.07" cy="208.31" r="1.85" fill="#C8102E"/>
<circle cx="283.88" cy="226.82" r="1.85" fill="#C8102E"/>
<circle cx="290.8" cy="225.09" r="1.85" fill="#C8102E"/>
<circle cx="294.78" cy="225.95" r="1.85" fill="#C8102E"/>
<circle cx="289.07" cy="232.87" r="1.85" fill="#C8102E"/>
<circle cx="286.48" cy="243.6" r="1.85" fill="#C8102E"/>
<circle cx="292.19" cy="243.6" r="1.85" fill="#C8102E"/>
<circle cx="289.07" cy="253.63" r="1.85" fill="#C8102E"/>
<circle cx="285.61" cy="256.23" r="1.85" fill="#C8102E"/>
<circle cx="292.53" cy="256.23" r="1.85" fill="#C8102E"/>
<circle cx="281.8" cy="258.31" r="1.85" fill="#C8102E"/>
<circle cx="289.07" cy="258.31" r="1.85" fill="#C8102E"/>
<circle cx="295.99" cy="258.82" r="1.85" fill="#C8102E"/>
<circle cx="283.88" cy="260.9" r="1.85" fill="#C8102E"/>
<circle cx="286.99" cy="260.55" r="1.85" fill="#C8102E"/>
<circle cx="294.26" cy="260.9" r="1.85" fill="#C8102E"/>
<circle cx="281.8" cy="262.8" r="1.85" fill="#C8102E"/>
<circle cx="292.19" cy="263.5" r="1.85" fill="#C8102E"/>
<circle cx="295.99" cy="263.67" r="1.85" fill="#C8102E"/>
<circle cx="289.07" cy="264.01" r="1.85" fill="#C8102E"/>
<rect x="314.45" y="187.85" width="3.25" height="3.25" fill="#0F4D86"/>
<rect x="314.41" y="193.48" width="3.25" height="3.25" fill="#0F4D86"/>
<rect x="314.56" y="200.84" width="3.25" height="3.25" fill="#0F4D86"/>
<rect x="314.63" y="204.42" width="3.25" height="3.25" fill="#0F4D86"/>
<rect x="314.59" y="213.47" width="3.25" height="3.25" fill="#0F4D86"/>
<rect x="314.42" y="218.84" width="3.25" height="3.25" fill="#0F4D86"/>
<rect x="313.14" y="223.83" width="3.25" height="3.25" fill="#0F4D86"/>
<rect x="316.14" y="224.19" width="3.25" height="3.25" fill="#0F4D86"/>
<rect x="314.85" y="232.01" width="3.25" height="3.25" fill="#0F4D86"/>
<rect x="314.57" y="235.08" width="3.25" height="3.25" fill="#0F4D86"/>
<rect x="312.75" y="238.21" width="3.25" height="3.25" fill="#0F4D86"/>
<rect x="316.17" y="238.35" width="3.25" height="3.25" fill="#0F4D86"/>
<rect x="312.78" y="242.82" width="3.25" height="3.25" fill="#0F4D86"/>
<rect x="316.43" y="242.62" width="3.25" height="3.25" fill="#0F4D86"/>
<rect x="313.02" y="246.09" width="3.25" height="3.25" fill="#0F4D86"/>
<rect x="316.21" y="245.54" width="3.25" height="3.25" fill="#0F4D86"/>
<rect x="311.11" y="248.95" width="3.25" height="3.25" fill="#0F4D86"/>
<rect x="314.48" y="249.54" width="3.25" height="3.25" fill="#0F4D86"/>
<rect x="317.89" y="248.8" width="3.25" height="3.25" fill="#0F4D86"/>
<rect x="311.37" y="252.84" width="3.25" height="3.25" fill="#0F4D86"/>
<rect x="314.52" y="252.68" width="3.25" height="3.25" fill="#0F4D86"/>
<rect x="318.02" y="252.27" width="3.25" height="3.25" fill="#0F4D86"/>
<rect x="311.36" y="255.94" width="3.25" height="3.25" fill="#0F4D86"/>
<rect x="314.81" y="255.6" width="3.25" height="3.25" fill="#0F4D86"/>
<rect x="317.82" y="255.35" width="3.25" height="3.25" fill="#0F4D86"/>
<rect x="307.83" y="258.06" width="3.25" height="3.25" fill="#0F4D86"/>
<rect x="311.45" y="258.74" width="3.25" height="3.25" fill="#0F4D86"/>
<rect x="314.62" y="259.06" width="3.25" height="3.25" fill="#0F4D86"/>
<rect x="318.01" y="259.19" width="3.25" height="3.25" fill="#0F4D86"/>
<rect x="321.26" y="258.32" width="3.25" height="3.25" fill="#0F4D86"/>
<rect x="306.28" y="261.32" width="3.25" height="3.25" fill="#0F4D86"/>
<rect x="309.72" y="261.53" width="3.25" height="3.25" fill="#0F4D86"/>
<rect x="312.95" y="261.67" width="3.25" height="3.25" fill="#0F4D86"/>
<rect x="316.5" y="261.36" width="3.25" height="3.25" fill="#0F4D86"/>
<rect x="319.66" y="261.8" width="3.25" height="3.25" fill="#0F4D86"/>
<rect x="322.98" y="262.29" width="3.25" height="3.25" fill="#0F4D86"/>
<rect x="309.92" y="264.6" width="3.25" height="3.25" fill="#0F4D86"/>
<rect x="312.87" y="264.39" width="3.25" height="3.25" fill="#0F4D86"/>
<rect x="316.36" y="264.91" width="3.25" height="3.25" fill="#0F4D86"/>
<rect x="319.56" y="265.35" width="3.25" height="3.25" fill="#0F4D86"/>
<rect x="314.43" y="267.46" width="3.25" height="3.25" fill="#0F4D86"/>
<path d="M343.22 216.22 L345.27 219.73 L341.17 219.73 Z" fill="#3BB54A"/>
<path d="M343.22 220.89 L345.27 224.4 L341.17 224.4 Z" fill="#3BB54A"/>
<path d="M343.22 226.08 L345.27 229.59 L341.17 229.59 Z" fill="#3BB54A"/>
<path d="M343.22 236.98 L345.27 240.49 L341.17 240.49 Z" fill="#3BB54A"/>
<path d="M336.13 239.57 L338.18 243.08 L334.08 243.08 Z" fill="#3BB54A"/>
<path d="M343.22 241.65 L345.27 245.16 L341.17 245.16 Z" fill="#3BB54A"/>
<path d="M343.22 253.07 L345.27 256.58 L341.17 256.58 Z" fill="#3BB54A"/>
<path d="M350.49 259.47 L352.54 262.98 L348.44 262.98 Z" fill="#3BB54A"/>
<path d="M336.13 260.68 L338.18 264.19 L334.08 264.19 Z" fill="#3BB54A"/>
<path d="M350.49 263.45 L352.54 266.96 L348.44 266.96 Z" fill="#3BB54A"/>
<path d="M336.13 265.18 L338.18 268.69 L334.08 268.69 Z" fill="#3BB54A"/>
<path d="M343.22 262.06 L345.27 265.57 L341.17 265.57 Z" fill="#3BB54A"/>
<line x1="289" y1="264.2" x2="289" y2="221.2" stroke="#000" stroke-width="0.9" />
<line x1="280" y1="242.2" x2="298" y2="242.2" stroke="#000" stroke-width="0.9" />
<line x1="285" y1="264.2" x2="293" y2="264.2" stroke="#000" stroke-width="0.9" />
<line x1="285" y1="221.2" x2="293" y2="221.2" stroke="#000" stroke-width="0.9" />
<line x1="316" y1="268.2" x2="316" y2="228.2" stroke="#000" stroke-width="0.9" />
<line x1="307" y1="248.2" x2="325" y2="248.2" stroke="#000" stroke-width="0.9" />
<line x1="312" y1="268.2" x2="320" y2="268.2" stroke="#000" stroke-width="0.9" />
<line x1="312" y1="228.2" x2="320" y2="228.2" stroke="#000" stroke-width="0.9" />
<line x1="344" y1="264.2" x2="344" y2="229.2" stroke="#000" stroke-width="0.9" />
<line x1="335" y1="247.2" x2="353" y2="247.2" stroke="#000" stroke-width="0.9" />
<line x1="340" y1="264.2" x2="348" y2="264.2" stroke="#000" stroke-width="0.9" />
<line x1="340" y1="229.2" x2="348" y2="229.2" stroke="#000" stroke-width="0.9" />
<line x1="271.25" y1="182.75" x2="271.25" y2="274" stroke="#161616" stroke-width="1.15" />
<line x1="267.95" y1="273.5" x2="362.5" y2="273.5" stroke="#161616" stroke-width="1.15" />
<text x="266.4" y="276.5" font-size="8.4" text-anchor="end" fill="#161616" textLength="10.8" lengthAdjust="spacingAndGlyphs" >0.0</text>
<line x1="267.95" y1="243.42" x2="271.25" y2="243.42" stroke="#161616" stroke-width="1.1" />
<text x="266.4" y="246.42" font-size="8.4" text-anchor="end" fill="#161616" textLength="10.8" lengthAdjust="spacingAndGlyphs" >0.5</text>
<line x1="267.95" y1="213.33" x2="271.25" y2="213.33" stroke="#161616" stroke-width="1.1" />
<text x="266.4" y="216.33" font-size="8.4" text-anchor="end" fill="#161616" textLength="10.8" lengthAdjust="spacingAndGlyphs" >1.0</text>
<line x1="267.95" y1="183.25" x2="271.25" y2="183.25" stroke="#161616" stroke-width="1.1" />
<text x="266.4" y="186.25" font-size="8.4" text-anchor="end" fill="#161616" textLength="10.8" lengthAdjust="spacingAndGlyphs" >1.5</text>
<line x1="289.25" y1="273.5" x2="289.25" y2="276.7" stroke="#161616" stroke-width="1.1" />
<text x="289.25" y="285.9" font-size="8.4" text-anchor="middle" fill="#161616" textLength="10.8" lengthAdjust="spacingAndGlyphs" >HD</text>
<line x1="316.25" y1="273.5" x2="316.25" y2="276.7" stroke="#161616" stroke-width="1.1" />
<text x="316.25" y="285.9" font-size="8.4" text-anchor="middle" fill="#161616" textLength="22.6" lengthAdjust="spacingAndGlyphs" >MGUS</text>
<line x1="343.75" y1="273.5" x2="343.75" y2="276.7" stroke="#161616" stroke-width="1.1" />
<text x="343.75" y="285.9" font-size="8.4" text-anchor="middle" fill="#161616" textLength="14" lengthAdjust="spacingAndGlyphs" >MM</text>
<text transform="translate(249 231.5) rotate(-90)" font-size="9.8" text-anchor="middle" fill="#161616" textLength="55.5" lengthAdjust="spacingAndGlyphs"><tspan font-style="italic">RXRG</tspan> expression</text>
</g>
<line x1="289.25" y1="168.75" x2="350" y2="168.75" stroke="#2c2c2c" stroke-width="1.25" />
<text x="319.5" y="166.7" font-size="7.6" text-anchor="middle" fill="#161616" textLength="11.5" lengthAdjust="spacingAndGlyphs" >n.s.</text>
<line x1="289.25" y1="180" x2="318.75" y2="180" stroke="#2c2c2c" stroke-width="1.25" />
<text x="304.25" y="177.95" font-size="7.6" text-anchor="middle" fill="#161616" textLength="11.5" lengthAdjust="spacingAndGlyphs" >n.s.</text>
<defs><linearGradient id="gA" x1="0" y1="0" x2="0" y2="1"><stop offset="0" stop-color="#c9c9c9"/><stop offset="0.3" stop-color="#ececec"/><stop offset="0.55" stop-color="#fdfdfd"/><stop offset="1" stop-color="#f4f4f4"/></linearGradient><linearGradient id="gB" x1="0" y1="0" x2="0" y2="1"><stop offset="0" stop-color="#e2e2e2"/><stop offset="0.35" stop-color="#fbfbfb"/><stop offset="1" stop-color="#ffffff"/></linearGradient><linearGradient id="gG" x1="0" y1="0" x2="0" y2="1"><stop offset="0" stop-color="#a6a6a6"/><stop offset="0.45" stop-color="#9a9a9a"/><stop offset="0.6" stop-color="#888"/><stop offset="1" stop-color="#8c8c8c"/></linearGradient></defs>
<rect x="376.9" y="91.5" width="113" height="3.8" fill="#5e5e5e"/>
<text x="388.1" y="51" font-size="8.1" text-anchor="start" fill="#161616" transform="rotate(-90 388.1 51)" textLength="20.8" lengthAdjust="spacingAndGlyphs" >ARP-1</text>
<text x="402.3" y="51" font-size="8.1" text-anchor="start" fill="#161616" transform="rotate(-90 402.3 51)" textLength="38.6" lengthAdjust="spacingAndGlyphs" >KMS-12-PE</text>
<text x="415.8" y="51" font-size="8.1" text-anchor="start" fill="#161616" transform="rotate(-90 415.8 51)" textLength="22.8" lengthAdjust="spacingAndGlyphs" >MM.1S</text>
<text x="431.1" y="51" font-size="8.1" text-anchor="start" fill="#161616" transform="rotate(-90 431.1 51)" textLength="22.8" lengthAdjust="spacingAndGlyphs" >MM.1R</text>
<text x="445.9" y="51" font-size="8.1" text-anchor="start" fill="#161616" transform="rotate(-90 445.9 51)" textLength="40.6" lengthAdjust="spacingAndGlyphs" >KMS-12-BM</text>
<text x="458.9" y="51" font-size="8.1" text-anchor="start" fill="#161616" transform="rotate(-90 458.9 51)" textLength="14.8" lengthAdjust="spacingAndGlyphs" >LP-1</text>
<text x="472.1" y="51" font-size="8.1" text-anchor="start" fill="#161616" transform="rotate(-90 472.1 51)" textLength="19" lengthAdjust="spacingAndGlyphs" >U266</text>
<text x="485.9" y="51" font-size="8.1" text-anchor="start" fill="#161616" transform="rotate(-90 485.9 51)" textLength="37.2" lengthAdjust="spacingAndGlyphs" >RPMI-8226</text>
<clipPath id="cp530"><rect x="377.4" y="53" width="112" height="19"/></clipPath>
<rect x="377.4" y="53" width="112" height="19" fill="#c1c1c1"/>
<g clip-path="url(#cp530)">
<rect x="380.1" y="61.2" width="9" height="2" rx="0.95" ry="0.95" fill="#666" opacity="0.1" filter="url(#b1)"/>
<rect x="394.18" y="61.2" width="9" height="2" rx="0.95" ry="0.95" fill="#666" opacity="0.05" filter="url(#b1)"/>
<rect x="408.26" y="61.2" width="9" height="2" rx="0.95" ry="0.95" fill="#666" opacity="0" filter="url(#b1)"/>
<rect x="422.34" y="61.2" width="9" height="2" rx="0.95" ry="0.95" fill="#666" opacity="0.05" filter="url(#b1)"/>
<rect x="436.42" y="61.2" width="9" height="2" rx="0.95" ry="0.95" fill="#666" opacity="0" filter="url(#b1)"/>
<rect x="450.5" y="61.2" width="9" height="2" rx="0.95" ry="0.95" fill="#666" opacity="0.08" filter="url(#b1)"/>
<rect x="464.58" y="61.2" width="9" height="2" rx="0.95" ry="0.95" fill="#666" opacity="0.28" filter="url(#b1)"/>
<rect x="478.66" y="61.2" width="9" height="2" rx="0.95" ry="0.95" fill="#666" opacity="0.03" filter="url(#b1)"/>
</g>
<rect x="377.4" y="53" width="112" height="19" fill="none" stroke="#151515" stroke-width="1.15"/>
<text x="493.2" y="66.4" font-size="8.2" fill="#161616" textLength="20" lengthAdjust="spacingAndGlyphs">RARα</text>
<clipPath id="cp743"><rect x="377.4" y="74.3" width="112" height="17.2"/></clipPath>
<rect x="377.4" y="74.3" width="112" height="17.2" fill="url(#gA)"/>
<g clip-path="url(#cp743)">
<ellipse cx="384.6" cy="83.6" rx="6.27" ry="2.7" fill="#050505" filter="url(#b1)"/>
<rect x="379.78" y="81.8" width="9.63" height="3.6" rx="1.8" ry="1.8" fill="#050505" filter="url(#b0)"/>
<ellipse cx="398.68" cy="83.2" rx="5.71" ry="2.38" fill="#050505" filter="url(#b1)"/>
<rect x="394.29" y="81.62" width="8.77" height="3.17" rx="1.58" ry="1.58" fill="#050505" filter="url(#b0)"/>
<ellipse cx="412.76" cy="83" rx="5.6" ry="2.05" fill="#050505" filter="url(#b1)"/>
<rect x="408.46" y="81.63" width="8.6" height="2.74" rx="1.37" ry="1.37" fill="#050505" filter="url(#b0)"/>
<ellipse cx="426.84" cy="82.6" rx="6.72" ry="2.81" fill="#050505" filter="url(#b1)"/>
<rect x="421.68" y="80.73" width="10.32" height="3.74" rx="1.87" ry="1.87" fill="#050505" filter="url(#b0)"/>
<ellipse cx="440.92" cy="82.9" rx="5.82" ry="2.27" fill="#050505" filter="url(#b1)"/>
<rect x="436.45" y="81.39" width="8.94" height="3.02" rx="1.51" ry="1.51" fill="#050505" filter="url(#b0)"/>
<ellipse cx="455" cy="83.1" rx="5.6" ry="2.27" fill="#050505" filter="url(#b1)"/>
<rect x="450.7" y="81.59" width="8.6" height="3.02" rx="1.51" ry="1.51" fill="#050505" filter="url(#b0)"/>
<ellipse cx="469.08" cy="82.7" rx="6.16" ry="2.38" fill="#050505" filter="url(#b1)"/>
<rect x="464.35" y="81.12" width="9.46" height="3.17" rx="1.58" ry="1.58" fill="#050505" filter="url(#b0)"/>
<ellipse cx="483.16" cy="82.5" rx="5.38" ry="2.16" fill="#050505" filter="url(#b1)"/>
<rect x="479.03" y="81.06" width="8.26" height="2.88" rx="1.44" ry="1.44" fill="#050505" filter="url(#b0)"/>
</g>
<rect x="377.4" y="74.3" width="112" height="17.2" fill="none" stroke="#151515" stroke-width="1.15"/>
<text x="493.2" y="86.8" font-size="8.2" fill="#161616">Actin</text>
<clipPath id="cp952"><rect x="377.4" y="95.2" width="112" height="17.8"/></clipPath>
<rect x="377.4" y="95.2" width="112" height="17.8" fill="url(#gB)"/>
<g clip-path="url(#cp952)">
<ellipse cx="384.6" cy="105.3" rx="6.94" ry="2.38" fill="#050505" filter="url(#b1)"/>
<rect x="379.27" y="103.72" width="10.66" height="3.17" rx="1.58" ry="1.58" fill="#050505" filter="url(#b0)"/>
<ellipse cx="398.68" cy="105.1" rx="6.61" ry="2.16" fill="#050505" filter="url(#b1)"/>
<rect x="393.61" y="103.66" width="10.15" height="2.88" rx="1.44" ry="1.44" fill="#050505" filter="url(#b0)"/>
<ellipse cx="412.76" cy="104.9" rx="6.61" ry="2.16" fill="#050505" filter="url(#b1)"/>
<rect x="407.69" y="103.46" width="10.15" height="2.88" rx="1.44" ry="1.44" fill="#050505" filter="url(#b0)"/>
<ellipse cx="426.84" cy="104.7" rx="6.61" ry="2.16" fill="#050505" filter="url(#b1)"/>
<rect x="421.77" y="103.26" width="10.15" height="2.88" rx="1.44" ry="1.44" fill="#050505" filter="url(#b0)"/>
<ellipse cx="440.92" cy="104.4" rx="6.5" ry="2.05" fill="#050505" filter="url(#b1)"/>
<rect x="435.93" y="103.03" width="9.98" height="2.74" rx="1.37" ry="1.37" fill="#050505" filter="url(#b0)"/>
<ellipse cx="455" cy="104.2" rx="6.5" ry="2.16" fill="#050505" filter="url(#b1)"/>
<rect x="450.01" y="102.76" width="9.98" height="2.88" rx="1.44" ry="1.44" fill="#050505" filter="url(#b0)"/>
<ellipse cx="469.08" cy="103.9" rx="6.27" ry="2.05" fill="#050505" filter="url(#b1)"/>
<rect x="464.26" y="102.53" width="9.63" height="2.74" rx="1.37" ry="1.37" fill="#050505" filter="url(#b0)"/>
<ellipse cx="483.16" cy="103.5" rx="5.82" ry="1.94" fill="#050505" filter="url(#b1)"/>
<rect x="478.69" y="102.2" width="8.94" height="2.59" rx="1.3" ry="1.3" fill="#050505" filter="url(#b0)"/>
</g>
<rect x="377.4" y="95.2" width="112" height="17.8" fill="none" stroke="#151515" stroke-width="1.15"/>
<text x="493.2" y="108" font-size="8.2" fill="#161616" textLength="20" lengthAdjust="spacingAndGlyphs">RARβ</text>
<clipPath id="cp1154"><rect x="377.4" y="115.4" width="112" height="18.2"/></clipPath>
<rect x="377.4" y="115.4" width="112" height="18.2" fill="url(#gB)"/>
<g clip-path="url(#cp1154)">
<ellipse cx="384.6" cy="125.6" rx="6.27" ry="2.38" fill="#050505" filter="url(#b1)"/>
<rect x="379.78" y="124.02" width="9.63" height="3.17" rx="1.58" ry="1.58" fill="#050505" filter="url(#b0)"/>
<ellipse cx="398.68" cy="124.9" rx="5.82" ry="2.48" fill="#050505" filter="url(#b1)"/>
<rect x="394.21" y="123.24" width="8.94" height="3.31" rx="1.66" ry="1.66" fill="#050505" filter="url(#b0)"/>
<ellipse cx="412.76" cy="124.8" rx="5.38" ry="2.16" fill="#050505" filter="url(#b1)"/>
<rect x="408.63" y="123.36" width="8.26" height="2.88" rx="1.44" ry="1.44" fill="#050505" filter="url(#b0)"/>
<ellipse cx="426.84" cy="124.6" rx="5.38" ry="1.94" fill="#050505" filter="url(#b1)"/>
<rect x="422.71" y="123.3" width="8.26" height="2.59" rx="1.3" ry="1.3" fill="#050505" filter="url(#b0)"/>
<ellipse cx="440.92" cy="124.1" rx="5.38" ry="2.38" fill="#050505" filter="url(#b1)"/>
<rect x="436.79" y="122.52" width="8.26" height="3.17" rx="1.58" ry="1.58" fill="#050505" filter="url(#b0)"/>
<ellipse cx="455" cy="123.8" rx="5.82" ry="2.38" fill="#050505" filter="url(#b1)"/>
<rect x="450.53" y="122.22" width="8.94" height="3.17" rx="1.58" ry="1.58" fill="#050505" filter="url(#b0)"/>
<ellipse cx="469.08" cy="123.6" rx="5.6" ry="2.27" fill="#050505" filter="url(#b1)"/>
<rect x="464.78" y="122.09" width="8.6" height="3.02" rx="1.51" ry="1.51" fill="#050505" filter="url(#b0)"/>
<ellipse cx="483.16" cy="123.2" rx="5.82" ry="2.27" fill="#050505" filter="url(#b1)"/>
<rect x="478.69" y="121.69" width="8.94" height="3.02" rx="1.51" ry="1.51" fill="#050505" filter="url(#b0)"/>
</g>
<rect x="377.4" y="115.4" width="112" height="18.2" fill="none" stroke="#151515" stroke-width="1.15"/>
<text x="493.2" y="128.4" font-size="8.2" fill="#161616">Actin</text>
<clipPath id="cp1362"><rect x="377.4" y="136.2" width="112" height="18.8"/></clipPath>
<rect x="377.4" y="136.2" width="112" height="18.8" fill="url(#gG)"/>
<g clip-path="url(#cp1362)">
<ellipse cx="384.6" cy="144" rx="6.5" ry="1.84" fill="#050505" filter="url(#b1)"/>
<rect x="379.61" y="142.78" width="9.98" height="2.45" rx="1.22" ry="1.22" fill="#050505" filter="url(#b0)"/>
<ellipse cx="398.68" cy="144.2" rx="6.05" ry="1.73" fill="#050505" filter="url(#b1)"/>
<rect x="394.04" y="143.05" width="9.29" height="2.3" rx="1.15" ry="1.15" fill="#050505" filter="url(#b0)"/>
<ellipse cx="412.76" cy="144.4" rx="6.27" ry="1.73" fill="#050505" filter="url(#b1)"/>
<rect x="407.94" y="143.25" width="9.63" height="2.3" rx="1.15" ry="1.15" fill="#050505" filter="url(#b0)"/>
<ellipse cx="426.84" cy="144.5" rx="6.27" ry="1.84" fill="#050505" filter="url(#b1)"/>
<rect x="422.02" y="143.28" width="9.63" height="2.45" rx="1.22" ry="1.22" fill="#050505" filter="url(#b0)"/>
<ellipse cx="440.92" cy="144.7" rx="6.05" ry="1.73" fill="#050505" filter="url(#b1)"/>
<rect x="436.28" y="143.55" width="9.29" height="2.3" rx="1.15" ry="1.15" fill="#050505" filter="url(#b0)"/>
<ellipse cx="455" cy="144.9" rx="6.27" ry="1.84" fill="#050505" filter="url(#b1)"/>
<rect x="450.18" y="143.68" width="9.63" height="2.45" rx="1.22" ry="1.22" fill="#050505" filter="url(#b0)"/>
<ellipse cx="469.08" cy="145" rx="6.05" ry="1.73" fill="#050505" filter="url(#b1)"/>
<rect x="464.44" y="143.85" width="9.29" height="2.3" rx="1.15" ry="1.15" fill="#050505" filter="url(#b0)"/>
<ellipse cx="483.16" cy="145.2" rx="5.82" ry="1.84" fill="#050505" filter="url(#b1)"/>
<rect x="478.69" y="143.98" width="8.94" height="2.45" rx="1.22" ry="1.22" fill="#050505" filter="url(#b0)"/>
</g>
<rect x="377.4" y="136.2" width="112" height="18.8" fill="none" stroke="#151515" stroke-width="1.15"/>
<text x="493.2" y="149.5" font-size="8.2" fill="#161616" textLength="18.6" lengthAdjust="spacingAndGlyphs">RARγ</text>
<clipPath id="cp1572"><rect x="377.4" y="157.2" width="112" height="18"/></clipPath>
<rect x="377.4" y="157.2" width="112" height="18" fill="url(#gB)"/>
<g clip-path="url(#cp1572)">
<ellipse cx="384.6" cy="164.4" rx="6.05" ry="2.16" fill="#050505" filter="url(#b1)"/>
<rect x="379.96" y="162.96" width="9.29" height="2.88" rx="1.44" ry="1.44" fill="#050505" filter="url(#b0)"/>
<ellipse cx="398.68" cy="164.8" rx="6.27" ry="2.7" fill="#050505" filter="url(#b1)"/>
<rect x="393.86" y="163" width="9.63" height="3.6" rx="1.8" ry="1.8" fill="#050505" filter="url(#b0)"/>
<ellipse cx="412.76" cy="164.6" rx="5.82" ry="2.27" fill="#050505" filter="url(#b1)"/>
<rect x="408.29" y="163.09" width="8.94" height="3.02" rx="1.51" ry="1.51" fill="#050505" filter="url(#b0)"/>
<ellipse cx="426.84" cy="164.6" rx="5.6" ry="2.27" fill="#050505" filter="url(#b1)"/>
<rect x="422.54" y="163.09" width="8.6" height="3.02" rx="1.51" ry="1.51" fill="#050505" filter="url(#b0)"/>
<ellipse cx="440.92" cy="164.7" rx="6.5" ry="3.02" fill="#050505" filter="url(#b1)"/>
<rect x="435.93" y="162.68" width="9.98" height="4.03" rx="2.02" ry="2.02" fill="#050505" filter="url(#b0)"/>
<ellipse cx="455" cy="165.4" rx="5.38" ry="1.73" fill="#050505" filter="url(#b1)"/>
<rect x="450.87" y="164.25" width="8.26" height="2.3" rx="1.15" ry="1.15" fill="#050505" filter="url(#b0)"/>
<ellipse cx="469.08" cy="165" rx="6.27" ry="2.59" fill="#050505" filter="url(#b1)"/>
<rect x="464.26" y="163.27" width="9.63" height="3.46" rx="1.73" ry="1.73" fill="#050505" filter="url(#b0)"/>
<ellipse cx="483.16" cy="165" rx="5.82" ry="2.38" fill="#050505" filter="url(#b1)"/>
<rect x="478.69" y="163.42" width="8.94" height="3.17" rx="1.58" ry="1.58" fill="#050505" filter="url(#b0)"/>
</g>
<rect x="377.4" y="157.2" width="112" height="18" fill="none" stroke="#151515" stroke-width="1.15"/>
<text x="493.2" y="170.1" font-size="8.2" fill="#161616">Actin</text>
<clipPath id="cp1773"><rect x="377.4" y="177.3" width="112" height="18.3"/></clipPath>
<rect x="377.4" y="177.3" width="112" height="18.3" fill="#dadada"/>
<g clip-path="url(#cp1773)">
<ellipse cx="384.6" cy="188.2" rx="6.5" ry="2.38" fill="#050505" filter="url(#b1)"/>
<rect x="379.61" y="186.62" width="9.98" height="3.17" rx="1.58" ry="1.58" fill="#050505" filter="url(#b0)"/>
<rect x="395.28" y="186.8" width="6.8" height="2" rx="0.95" ry="0.95" fill="#050505" opacity="0.16" filter="url(#b1)"/>
<ellipse cx="412.76" cy="187" rx="6.72" ry="2.48" fill="#050505" filter="url(#b1)"/>
<rect x="407.6" y="185.34" width="10.32" height="3.31" rx="1.66" ry="1.66" fill="#050505" filter="url(#b0)"/>
<ellipse cx="426.84" cy="186.8" rx="6.05" ry="2.05" fill="#050505" filter="url(#b1)"/>
<rect x="422.2" y="185.43" width="9.29" height="2.74" rx="1.37" ry="1.37" fill="#050505" filter="url(#b0)"/>
<ellipse cx="440.92" cy="185.8" rx="6.94" ry="2.7" fill="#050505" filter="url(#b1)"/>
<rect x="435.59" y="184" width="10.66" height="3.6" rx="1.8" ry="1.8" fill="#050505" filter="url(#b0)"/>
<ellipse cx="455" cy="185.2" rx="6.5" ry="2.48" fill="#050505" filter="url(#b1)"/>
<rect x="450.01" y="183.54" width="9.98" height="3.31" rx="1.66" ry="1.66" fill="#050505" filter="url(#b0)"/>
<ellipse cx="469.08" cy="184.6" rx="6.5" ry="2.38" fill="#050505" filter="url(#b1)"/>
<rect x="464.09" y="183.02" width="9.98" height="3.17" rx="1.58" ry="1.58" fill="#050505" filter="url(#b0)"/>
<ellipse cx="483.16" cy="183.8" rx="6.5" ry="2.38" fill="#050505" filter="url(#b1)"/>
<rect x="478.17" y="182.22" width="9.98" height="3.17" rx="1.58" ry="1.58" fill="#050505" filter="url(#b0)"/>
</g>
<rect x="377.4" y="177.3" width="112" height="18.3" fill="none" stroke="#151515" stroke-width="1.15"/>
<text x="493.2" y="190.35" font-size="8.2" fill="#161616" textLength="20" lengthAdjust="spacingAndGlyphs">RXRα</text>
<clipPath id="cp1982"><rect x="377.4" y="198.2" width="112" height="18.2"/></clipPath>
<rect x="377.4" y="198.2" width="112" height="18.2" fill="url(#gB)"/>
<g clip-path="url(#cp1982)">
<ellipse cx="384.6" cy="208.2" rx="6.27" ry="2.16" fill="#050505" filter="url(#b1)"/>
<rect x="379.78" y="206.76" width="9.63" height="2.88" rx="1.44" ry="1.44" fill="#050505" filter="url(#b0)"/>
<ellipse cx="398.68" cy="207.6" rx="5.82" ry="2.16" fill="#050505" filter="url(#b1)"/>
<rect x="394.21" y="206.16" width="8.94" height="2.88" rx="1.44" ry="1.44" fill="#050505" filter="url(#b0)"/>
<ellipse cx="412.76" cy="206.8" rx="6.5" ry="2.48" fill="#050505" filter="url(#b1)"/>
<rect x="407.77" y="205.14" width="9.98" height="3.31" rx="1.66" ry="1.66" fill="#050505" filter="url(#b0)"/>
<ellipse cx="426.84" cy="206.6" rx="5.6" ry="1.94" fill="#050505" filter="url(#b1)"/>
<rect x="422.54" y="205.3" width="8.6" height="2.59" rx="1.3" ry="1.3" fill="#050505" filter="url(#b0)"/>
<ellipse cx="440.92" cy="206" rx="5.82" ry="2.16" fill="#050505" filter="url(#b1)"/>
<rect x="436.45" y="204.56" width="8.94" height="2.88" rx="1.44" ry="1.44" fill="#050505" filter="url(#b0)"/>
<ellipse cx="455" cy="205.4" rx="5.82" ry="2.05" fill="#050505" filter="url(#b1)"/>
<rect x="450.53" y="204.03" width="8.94" height="2.74" rx="1.37" ry="1.37" fill="#050505" filter="url(#b0)"/>
<ellipse cx="469.08" cy="204.8" rx="5.6" ry="1.84" fill="#050505" filter="url(#b1)"/>
<rect x="464.78" y="203.58" width="8.6" height="2.45" rx="1.22" ry="1.22" fill="#050505" filter="url(#b0)"/>
<ellipse cx="483.16" cy="204.4" rx="6.05" ry="2.16" fill="#050505" filter="url(#b1)"/>
<rect x="478.52" y="202.96" width="9.29" height="2.88" rx="1.44" ry="1.44" fill="#050505" filter="url(#b0)"/>
</g>
<rect x="377.4" y="198.2" width="112" height="18.2" fill="none" stroke="#151515" stroke-width="1.15"/>
<text x="493.2" y="211.2" font-size="8.2" fill="#161616">Actin</text>
<clipPath id="cp2188"><rect x="377.4" y="218.8" width="112" height="18.2"/></clipPath>
<rect x="377.4" y="218.8" width="112" height="18.2" fill="#dcdcdc"/>
<g clip-path="url(#cp2188)">
<ellipse cx="384.6" cy="228.4" rx="6.27" ry="1.94" fill="#050505" filter="url(#b1)"/>
<rect x="379.78" y="227.1" width="9.63" height="2.59" rx="1.3" ry="1.3" fill="#050505" filter="url(#b0)"/>
<ellipse cx="398.68" cy="228.6" rx="6.27" ry="2.05" fill="#050505" filter="url(#b1)"/>
<rect x="393.86" y="227.23" width="9.63" height="2.74" rx="1.37" ry="1.37" fill="#050505" filter="url(#b0)"/>
<ellipse cx="412.76" cy="228.8" rx="6.5" ry="2.27" fill="#050505" filter="url(#b1)"/>
<rect x="407.77" y="227.29" width="9.98" height="3.02" rx="1.51" ry="1.51" fill="#050505" filter="url(#b0)"/>
<ellipse cx="426.84" cy="228.8" rx="6.72" ry="2.38" fill="#050505" filter="url(#b1)"/>
<rect x="421.68" y="227.22" width="10.32" height="3.17" rx="1.58" ry="1.58" fill="#050505" filter="url(#b0)"/>
<ellipse cx="440.92" cy="228.8" rx="6.72" ry="2.38" fill="#050505" filter="url(#b1)"/>
<rect x="435.76" y="227.22" width="10.32" height="3.17" rx="1.58" ry="1.58" fill="#050505" filter="url(#b0)"/>
<ellipse cx="455" cy="228.8" rx="6.5" ry="2.27" fill="#050505" filter="url(#b1)"/>
<rect x="450.01" y="227.29" width="9.98" height="3.02" rx="1.51" ry="1.51" fill="#050505" filter="url(#b0)"/>
<ellipse cx="469.08" cy="229" rx="6.05" ry="1.94" fill="#050505" filter="url(#b1)"/>
<rect x="464.44" y="227.7" width="9.29" height="2.59" rx="1.3" ry="1.3" fill="#050505" filter="url(#b0)"/>
<ellipse cx="483.16" cy="229.2" rx="6.27" ry="2.27" fill="#050505" filter="url(#b1)"/>
<rect x="478.34" y="227.69" width="9.63" height="3.02" rx="1.51" ry="1.51" fill="#050505" filter="url(#b0)"/>
</g>
<rect x="377.4" y="218.8" width="112" height="18.2" fill="none" stroke="#151515" stroke-width="1.15"/>
<text x="493.2" y="231.8" font-size="8.2" fill="#161616" textLength="20" lengthAdjust="spacingAndGlyphs">RXRβ</text>
<clipPath id="cp2393"><rect x="377.4" y="239.3" width="112" height="18.7"/></clipPath>
<rect x="377.4" y="239.3" width="112" height="18.7" fill="url(#gB)"/>
<g clip-path="url(#cp2393)">
<ellipse cx="384.6" cy="247.6" rx="6.5" ry="2.81" fill="#050505" filter="url(#b1)"/>
<rect x="379.61" y="245.73" width="9.98" height="3.74" rx="1.87" ry="1.87" fill="#050505" filter="url(#b0)"/>
<ellipse cx="398.68" cy="247.6" rx="6.05" ry="2.48" fill="#050505" filter="url(#b1)"/>
<rect x="394.04" y="245.94" width="9.29" height="3.31" rx="1.66" ry="1.66" fill="#050505" filter="url(#b0)"/>
<ellipse cx="412.76" cy="247.7" rx="6.27" ry="2.59" fill="#050505" filter="url(#b1)"/>
<rect x="407.94" y="245.97" width="9.63" height="3.46" rx="1.73" ry="1.73" fill="#050505" filter="url(#b0)"/>
<ellipse cx="426.84" cy="247.8" rx="6.05" ry="2.48" fill="#050505" filter="url(#b1)"/>
<rect x="422.2" y="246.14" width="9.29" height="3.31" rx="1.66" ry="1.66" fill="#050505" filter="url(#b0)"/>
<ellipse cx="440.92" cy="247.9" rx="6.5" ry="2.81" fill="#050505" filter="url(#b1)"/>
<rect x="435.93" y="246.03" width="9.98" height="3.74" rx="1.87" ry="1.87" fill="#050505" filter="url(#b0)"/>
<ellipse cx="455" cy="248" rx="6.5" ry="2.81" fill="#050505" filter="url(#b1)"/>
<rect x="450.01" y="246.13" width="9.98" height="3.74" rx="1.87" ry="1.87" fill="#050505" filter="url(#b0)"/>
<ellipse cx="469.08" cy="248.2" rx="6.5" ry="2.92" fill="#050505" filter="url(#b1)"/>
<rect x="464.09" y="246.26" width="9.98" height="3.89" rx="1.94" ry="1.94" fill="#050505" filter="url(#b0)"/>
<ellipse cx="483.16" cy="248.4" rx="6.5" ry="2.92" fill="#050505" filter="url(#b1)"/>
<rect x="478.17" y="246.46" width="9.98" height="3.89" rx="1.94" ry="1.94" fill="#050505" filter="url(#b0)"/>
</g>
<rect x="377.4" y="239.3" width="112" height="18.7" fill="none" stroke="#151515" stroke-width="1.15"/>
<text x="493.2" y="252.55" font-size="8.2" fill="#161616">Actin</text>
<clipPath id="cp2605"><rect x="377.4" y="260.5" width="112" height="15"/></clipPath>
<rect x="377.4" y="260.5" width="112" height="15" fill="#bdbdbd"/>
<g clip-path="url(#cp2605)">
<rect x="379" y="263.35" width="11.2" height="2.3" rx="1.09" ry="1.09" fill="#050505" opacity="0.95" filter="url(#b0)"/>
<rect x="393.08" y="263.35" width="11.2" height="2.3" rx="1.09" ry="1.09" fill="#050505" opacity="0.45" filter="url(#b0)"/>
<rect x="407.16" y="263.35" width="11.2" height="2.3" rx="1.09" ry="1.09" fill="#050505" opacity="0.08" filter="url(#b0)"/>
<rect x="421.24" y="263.35" width="11.2" height="2.3" rx="1.09" ry="1.09" fill="#050505" opacity="0.3" filter="url(#b0)"/>
<rect x="435.32" y="263.35" width="11.2" height="2.3" rx="1.09" ry="1.09" fill="#050505" opacity="0.9" filter="url(#b0)"/>
<rect x="449.4" y="263.35" width="11.2" height="2.3" rx="1.09" ry="1.09" fill="#050505" opacity="0.8" filter="url(#b0)"/>
<rect x="463.48" y="263.35" width="11.2" height="2.3" rx="1.09" ry="1.09" fill="#050505" opacity="0.35" filter="url(#b0)"/>
<rect x="477.56" y="263.35" width="11.2" height="2.3" rx="1.09" ry="1.09" fill="#050505" opacity="0.85" filter="url(#b0)"/>
<rect x="378.6" y="267.95" width="12" height="2.9" rx="1.38" ry="1.38" fill="#050505" opacity="1" filter="url(#b0)"/>
<rect x="392.68" y="267.95" width="12" height="2.9" rx="1.38" ry="1.38" fill="#050505" opacity="0.7" filter="url(#b0)"/>
<rect x="406.76" y="267.95" width="12" height="2.9" rx="1.38" ry="1.38" fill="#050505" opacity="0.55" filter="url(#b0)"/>
<rect x="420.84" y="267.95" width="12" height="2.9" rx="1.38" ry="1.38" fill="#050505" opacity="0.98" filter="url(#b0)"/>
<rect x="434.92" y="267.95" width="12" height="2.9" rx="1.38" ry="1.38" fill="#050505" opacity="1" filter="url(#b0)"/>
<rect x="449" y="267.95" width="12" height="2.9" rx="1.38" ry="1.38" fill="#050505" opacity="0.98" filter="url(#b0)"/>
<rect x="463.08" y="267.95" width="12" height="2.9" rx="1.38" ry="1.38" fill="#050505" opacity="0.6" filter="url(#b0)"/>
<rect x="477.16" y="267.95" width="12" height="2.9" rx="1.38" ry="1.38" fill="#050505" opacity="1" filter="url(#b0)"/>
<rect x="378.8" y="272.4" width="11.6" height="1.6" rx="0.76" ry="0.76" fill="#111" opacity="0.45" filter="url(#b0)"/>
<rect x="392.88" y="272.4" width="11.6" height="1.6" rx="0.76" ry="0.76" fill="#111" opacity="0.25" filter="url(#b0)"/>
<rect x="406.96" y="272.4" width="11.6" height="1.6" rx="0.76" ry="0.76" fill="#111" opacity="0.2" filter="url(#b0)"/>
<rect x="421.04" y="272.4" width="11.6" height="1.6" rx="0.76" ry="0.76" fill="#111" opacity="0.5" filter="url(#b0)"/>
<rect x="435.12" y="272.4" width="11.6" height="1.6" rx="0.76" ry="0.76" fill="#111" opacity="0.5" filter="url(#b0)"/>
<rect x="449.2" y="272.4" width="11.6" height="1.6" rx="0.76" ry="0.76" fill="#111" opacity="0.4" filter="url(#b0)"/>
<rect x="463.28" y="272.4" width="11.6" height="1.6" rx="0.76" ry="0.76" fill="#111" opacity="0.25" filter="url(#b0)"/>
<rect x="477.36" y="272.4" width="11.6" height="1.6" rx="0.76" ry="0.76" fill="#111" opacity="0.5" filter="url(#b0)"/>
</g>
<rect x="377.4" y="260.5" width="112" height="15" fill="none" stroke="#151515" stroke-width="1.15"/>
<text x="493.2" y="271.9" font-size="8.2" fill="#161616" textLength="18.6" lengthAdjust="spacingAndGlyphs">RXRγ</text>
<clipPath id="cp2772"><rect x="377.4" y="277.2" width="112" height="19.2"/></clipPath>
<rect x="377.4" y="277.2" width="112" height="19.2" fill="url(#gB)"/>
<g clip-path="url(#cp2772)">
<ellipse cx="384.6" cy="285.8" rx="6.5" ry="2.7" fill="#050505" filter="url(#b1)"/>
<rect x="379.61" y="284" width="9.98" height="3.6" rx="1.8" ry="1.8" fill="#050505" filter="url(#b0)"/>
<ellipse cx="398.68" cy="286" rx="6.05" ry="2.48" fill="#050505" filter="url(#b1)"/>
<rect x="394.04" y="284.34" width="9.29" height="3.31" rx="1.66" ry="1.66" fill="#050505" filter="url(#b0)"/>
<ellipse cx="412.76" cy="285.8" rx="6.27" ry="2.7" fill="#050505" filter="url(#b1)"/>
<rect x="407.94" y="284" width="9.63" height="3.6" rx="1.8" ry="1.8" fill="#050505" filter="url(#b0)"/>
<ellipse cx="426.84" cy="286.2" rx="6.05" ry="2.59" fill="#050505" filter="url(#b1)"/>
<rect x="422.2" y="284.47" width="9.29" height="3.46" rx="1.73" ry="1.73" fill="#050505" filter="url(#b0)"/>
<ellipse cx="440.92" cy="286.6" rx="6.5" ry="2.92" fill="#050505" filter="url(#b1)"/>
<rect x="435.93" y="284.66" width="9.98" height="3.89" rx="1.94" ry="1.94" fill="#050505" filter="url(#b0)"/>
<ellipse cx="455" cy="286.4" rx="6.05" ry="2.59" fill="#050505" filter="url(#b1)"/>
<rect x="450.36" y="284.67" width="9.29" height="3.46" rx="1.73" ry="1.73" fill="#050505" filter="url(#b0)"/>
<ellipse cx="469.08" cy="287.2" rx="6.72" ry="3.13" fill="#050505" filter="url(#b1)"/>
<rect x="463.92" y="285.11" width="10.32" height="4.18" rx="2.09" ry="2.09" fill="#050505" filter="url(#b0)"/>
<ellipse cx="483.16" cy="287.4" rx="6.27" ry="3.02" fill="#050505" filter="url(#b1)"/>
<rect x="478.34" y="285.38" width="9.63" height="4.03" rx="2.02" ry="2.02" fill="#050505" filter="url(#b0)"/>
</g>
<rect x="377.4" y="277.2" width="112" height="19.2" fill="none" stroke="#151515" stroke-width="1.15"/>
<text x="493.2" y="290.7" font-size="8.2" fill="#161616">Actin</text>
<line x1="64.5" y1="385.01" x2="64.5" y2="382.01" stroke="#C8102E" stroke-width="0.9" />
<line x1="62.4" y1="382.01" x2="66.6" y2="382.01" stroke="#C8102E" stroke-width="0.9" />
<rect x="60.75" y="385.01" width="7.5" height="9.49" fill="#C8102E"/>
<line x1="75.92" y1="386.26" x2="75.92" y2="382.51" stroke="#0F4D86" stroke-width="0.9" />
<line x1="73.82" y1="382.51" x2="78.02" y2="382.51" stroke="#0F4D86" stroke-width="0.9" />
<rect x="72.17" y="386.26" width="7.5" height="8.24" fill="#0F4D86"/>
<line x1="87.34" y1="385.01" x2="87.34" y2="384.34" stroke="#3BB54A" stroke-width="0.9" />
<line x1="85.24" y1="384.34" x2="89.44" y2="384.34" stroke="#3BB54A" stroke-width="0.9" />
<rect x="83.59" y="385.01" width="7.5" height="9.49" fill="#3BB54A"/>
<line x1="98.76" y1="385.01" x2="98.76" y2="383.68" stroke="#5C2673" stroke-width="0.9" />
<line x1="96.66" y1="383.68" x2="100.86" y2="383.68" stroke="#5C2673" stroke-width="0.9" />
<rect x="95.01" y="385.01" width="7.5" height="9.49" fill="#5C2673"/>
<line x1="110.18" y1="383.26" x2="110.18" y2="378.68" stroke="#F7941D" stroke-width="0.9" />
<line x1="108.08" y1="378.68" x2="112.28" y2="378.68" stroke="#F7941D" stroke-width="0.9" />
<rect x="106.43" y="383.26" width="7.5" height="11.24" fill="#F7941D"/>
<line x1="129.25" y1="345.72" x2="129.25" y2="342.05" stroke="#C8102E" stroke-width="0.9" />
<line x1="127.15" y1="342.05" x2="131.35" y2="342.05" stroke="#C8102E" stroke-width="0.9" />
<rect x="125.5" y="345.72" width="7.5" height="48.78" fill="#C8102E"/>
<line x1="140.67" y1="352.46" x2="140.67" y2="343.72" stroke="#0F4D86" stroke-width="0.9" />
<line x1="138.57" y1="343.72" x2="142.77" y2="343.72" stroke="#0F4D86" stroke-width="0.9" />
<rect x="136.92" y="352.46" width="7.5" height="42.04" fill="#0F4D86"/>
<line x1="152.09" y1="344.55" x2="152.09" y2="337.47" stroke="#3BB54A" stroke-width="0.9" />
<line x1="149.99" y1="337.47" x2="154.19" y2="337.47" stroke="#3BB54A" stroke-width="0.9" />
<rect x="148.34" y="344.55" width="7.5" height="49.95" fill="#3BB54A"/>
<line x1="163.51" y1="325.74" x2="163.51" y2="323.82" stroke="#5C2673" stroke-width="0.9" />
<line x1="161.41" y1="323.82" x2="165.61" y2="323.82" stroke="#5C2673" stroke-width="0.9" />
<rect x="159.76" y="325.74" width="7.5" height="68.76" fill="#5C2673"/>
<line x1="174.93" y1="353.29" x2="174.93" y2="343.72" stroke="#F7941D" stroke-width="0.9" />
<line x1="172.83" y1="343.72" x2="177.03" y2="343.72" stroke="#F7941D" stroke-width="0.9" />
<rect x="171.18" y="353.29" width="7.5" height="41.21" fill="#F7941D"/>
<line x1="193.75" y1="386.76" x2="193.75" y2="386.01" stroke="#C8102E" stroke-width="0.9" />
<line x1="191.65" y1="386.01" x2="195.85" y2="386.01" stroke="#C8102E" stroke-width="0.9" />
<rect x="190" y="386.76" width="7.5" height="7.74" fill="#C8102E"/>
<line x1="205.17" y1="385.76" x2="205.17" y2="383.26" stroke="#0F4D86" stroke-width="0.9" />
<line x1="203.07" y1="383.26" x2="207.27" y2="383.26" stroke="#0F4D86" stroke-width="0.9" />
<rect x="201.42" y="385.76" width="7.5" height="8.74" fill="#0F4D86"/>
<line x1="216.59" y1="385.51" x2="216.59" y2="383.51" stroke="#3BB54A" stroke-width="0.9" />
<line x1="214.49" y1="383.51" x2="218.69" y2="383.51" stroke="#3BB54A" stroke-width="0.9" />
<rect x="212.84" y="385.51" width="7.5" height="8.99" fill="#3BB54A"/>
<line x1="228.01" y1="385.51" x2="228.01" y2="383.26" stroke="#5C2673" stroke-width="0.9" />
<line x1="225.91" y1="383.26" x2="230.11" y2="383.26" stroke="#5C2673" stroke-width="0.9" />
<rect x="224.26" y="385.51" width="7.5" height="8.99" fill="#5C2673"/>
<line x1="239.43" y1="385.01" x2="239.43" y2="382.01" stroke="#F7941D" stroke-width="0.9" />
<line x1="237.33" y1="382.01" x2="241.53" y2="382.01" stroke="#F7941D" stroke-width="0.9" />
<rect x="235.68" y="385.01" width="7.5" height="9.49" fill="#F7941D"/>
<line x1="258.25" y1="374.02" x2="258.25" y2="371.19" stroke="#C8102E" stroke-width="0.9" />
<line x1="256.15" y1="371.19" x2="260.35" y2="371.19" stroke="#C8102E" stroke-width="0.9" />
<rect x="254.5" y="374.02" width="7.5" height="20.48" fill="#C8102E"/>
<line x1="269.67" y1="374.27" x2="269.67" y2="372.27" stroke="#0F4D86" stroke-width="0.9" />
<line x1="267.57" y1="372.27" x2="271.77" y2="372.27" stroke="#0F4D86" stroke-width="0.9" />
<rect x="265.92" y="374.27" width="7.5" height="20.23" fill="#0F4D86"/>
<line x1="281.09" y1="352.71" x2="281.09" y2="349.21" stroke="#3BB54A" stroke-width="0.9" />
<line x1="278.99" y1="349.21" x2="283.19" y2="349.21" stroke="#3BB54A" stroke-width="0.9" />
<rect x="277.34" y="352.71" width="7.5" height="41.79" fill="#3BB54A"/>
<line x1="292.51" y1="360.53" x2="292.51" y2="359.53" stroke="#5C2673" stroke-width="0.9" />
<line x1="290.41" y1="359.53" x2="294.61" y2="359.53" stroke="#5C2673" stroke-width="0.9" />
<rect x="288.76" y="360.53" width="7.5" height="33.97" fill="#5C2673"/>
<line x1="303.93" y1="371.77" x2="303.93" y2="368.28" stroke="#F7941D" stroke-width="0.9" />
<line x1="301.83" y1="368.28" x2="306.03" y2="368.28" stroke="#F7941D" stroke-width="0.9" />
<rect x="300.18" y="371.77" width="7.5" height="22.73" fill="#F7941D"/>
<line x1="323" y1="379.51" x2="323" y2="375.52" stroke="#C8102E" stroke-width="0.9" />
<line x1="320.9" y1="375.52" x2="325.1" y2="375.52" stroke="#C8102E" stroke-width="0.9" />
<rect x="319.25" y="379.51" width="7.5" height="14.99" fill="#C8102E"/>
<line x1="334.42" y1="383.01" x2="334.42" y2="378.52" stroke="#0F4D86" stroke-width="0.9" />
<line x1="332.32" y1="378.52" x2="336.52" y2="378.52" stroke="#0F4D86" stroke-width="0.9" />
<rect x="330.67" y="383.01" width="7.5" height="11.49" fill="#0F4D86"/>
<line x1="345.84" y1="380.01" x2="345.84" y2="377.52" stroke="#3BB54A" stroke-width="0.9" />
<line x1="343.74" y1="377.52" x2="347.94" y2="377.52" stroke="#3BB54A" stroke-width="0.9" />
<rect x="342.09" y="380.01" width="7.5" height="14.49" fill="#3BB54A"/>
<line x1="357.26" y1="379.76" x2="357.26" y2="377.27" stroke="#5C2673" stroke-width="0.9" />
<line x1="355.16" y1="377.27" x2="359.36" y2="377.27" stroke="#5C2673" stroke-width="0.9" />
<rect x="353.51" y="379.76" width="7.5" height="14.74" fill="#5C2673"/>
<line x1="368.68" y1="382.01" x2="368.68" y2="380.51" stroke="#F7941D" stroke-width="0.9" />
<line x1="366.58" y1="380.51" x2="370.78" y2="380.51" stroke="#F7941D" stroke-width="0.9" />
<rect x="364.93" y="382.01" width="7.5" height="12.49" fill="#F7941D"/>
<line x1="387.5" y1="345.72" x2="387.5" y2="342.47" stroke="#C8102E" stroke-width="0.9" />
<line x1="385.4" y1="342.47" x2="389.6" y2="342.47" stroke="#C8102E" stroke-width="0.9" />
<rect x="383.75" y="345.72" width="7.5" height="48.78" fill="#C8102E"/>
<line x1="398.92" y1="352.04" x2="398.92" y2="345.47" stroke="#0F4D86" stroke-width="0.9" />
<line x1="396.82" y1="345.47" x2="401.02" y2="345.47" stroke="#0F4D86" stroke-width="0.9" />
<rect x="395.17" y="352.04" width="7.5" height="42.46" fill="#0F4D86"/>
<line x1="410.34" y1="344.72" x2="410.34" y2="336.23" stroke="#3BB54A" stroke-width="0.9" />
<line x1="408.24" y1="336.23" x2="412.44" y2="336.23" stroke="#3BB54A" stroke-width="0.9" />
<rect x="406.59" y="344.72" width="7.5" height="49.78" fill="#3BB54A"/>
<line x1="421.76" y1="325.74" x2="421.76" y2="318.24" stroke="#5C2673" stroke-width="0.9" />
<line x1="419.66" y1="318.24" x2="423.86" y2="318.24" stroke="#5C2673" stroke-width="0.9" />
<rect x="418.01" y="325.74" width="7.5" height="68.76" fill="#5C2673"/>
<line x1="433.18" y1="345.22" x2="433.18" y2="336.47" stroke="#F7941D" stroke-width="0.9" />
<line x1="431.08" y1="336.47" x2="435.28" y2="336.47" stroke="#F7941D" stroke-width="0.9" />
<rect x="429.43" y="345.22" width="7.5" height="49.28" fill="#F7941D"/>
<line x1="57.1" y1="310.75" x2="57.1" y2="395" stroke="#161616" stroke-width="1.15" />
<line x1="53.8" y1="394.5" x2="441.25" y2="394.5" stroke="#161616" stroke-width="1.15" />
<text x="50.6" y="397.5" font-size="8.4" text-anchor="end" fill="#161616" textLength="4.32" lengthAdjust="spacingAndGlyphs" >0</text>
<line x1="53.8" y1="377.85" x2="57.1" y2="377.85" stroke="#161616" stroke-width="1.1" />
<text x="50.6" y="380.85" font-size="8.4" text-anchor="end" fill="#161616" textLength="8.64" lengthAdjust="spacingAndGlyphs" >20</text>
<line x1="53.8" y1="361.2" x2="57.1" y2="361.2" stroke="#161616" stroke-width="1.1" />
<text x="50.6" y="364.2" font-size="8.4" text-anchor="end" fill="#161616" textLength="8.64" lengthAdjust="spacingAndGlyphs" >40</text>
<line x1="53.8" y1="344.55" x2="57.1" y2="344.55" stroke="#161616" stroke-width="1.1" />
<text x="50.6" y="347.55" font-size="8.4" text-anchor="end" fill="#161616" textLength="8.64" lengthAdjust="spacingAndGlyphs" >60</text>
<line x1="53.8" y1="327.9" x2="57.1" y2="327.9" stroke="#161616" stroke-width="1.1" />
<text x="50.6" y="330.9" font-size="8.4" text-anchor="end" fill="#161616" textLength="8.64" lengthAdjust="spacingAndGlyphs" >80</text>
<line x1="53.8" y1="311.25" x2="57.1" y2="311.25" stroke="#161616" stroke-width="1.1" />
<text x="50.6" y="314.25" font-size="8.4" text-anchor="end" fill="#161616" textLength="12.96" lengthAdjust="spacingAndGlyphs" >100</text>
<text transform="translate(34.9 346.3) rotate(-90)" font-size="10" text-anchor="middle" fill="#161616" textLength="40" lengthAdjust="spacingAndGlyphs">Apoptosis %</text>
<line x1="87.44" y1="394.5" x2="87.44" y2="397.7" stroke="#161616" stroke-width="1.1" />
<text x="87.44" y="406.9" font-size="8.8" text-anchor="middle" fill="#161616" textLength="23.8" lengthAdjust="spacingAndGlyphs" >DMSO</text>
<line x1="152.19" y1="394.5" x2="152.19" y2="397.7" stroke="#161616" stroke-width="1.1" />
<text x="152.19" y="406.9" font-size="8.8" text-anchor="middle" fill="#161616" textLength="11.4" lengthAdjust="spacingAndGlyphs" >Cfz</text>
<line x1="216.69" y1="394.5" x2="216.69" y2="397.7" stroke="#161616" stroke-width="1.1" />
<text x="216.69" y="406.9" font-size="8.8" text-anchor="middle" fill="#161616" textLength="23.8" lengthAdjust="spacingAndGlyphs" >DMSO</text>
<line x1="281.19" y1="394.5" x2="281.19" y2="397.7" stroke="#161616" stroke-width="1.1" />
<text x="281.19" y="406.9" font-size="8.8" text-anchor="middle" fill="#161616" textLength="11.4" lengthAdjust="spacingAndGlyphs" >Cfz</text>
<line x1="345.94" y1="394.5" x2="345.94" y2="397.7" stroke="#161616" stroke-width="1.1" />
<text x="345.94" y="406.9" font-size="8.8" text-anchor="middle" fill="#161616" textLength="23.8" lengthAdjust="spacingAndGlyphs" >DMSO</text>
<line x1="410.44" y1="394.5" x2="410.44" y2="397.7" stroke="#161616" stroke-width="1.1" />
<text x="410.44" y="406.9" font-size="8.8" text-anchor="middle" fill="#161616" textLength="11.4" lengthAdjust="spacingAndGlyphs" >Cfz</text>
<line x1="58.25" y1="408.5" x2="179.5" y2="408.5" stroke="#161616" stroke-width="1" />
<text x="118.88" y="418.7" font-size="8.8" text-anchor="middle" fill="#161616" textLength="24.4" lengthAdjust="spacingAndGlyphs" >MM.1S</text>
<line x1="188.75" y1="408.5" x2="309.25" y2="408.5" stroke="#161616" stroke-width="1" />
<text x="249" y="418.7" font-size="8.8" text-anchor="middle" fill="#161616" textLength="22" lengthAdjust="spacingAndGlyphs" >ARP-1</text>
<line x1="318" y1="408.5" x2="440" y2="408.5" stroke="#161616" stroke-width="1" />
<text x="379" y="418.7" font-size="8.8" text-anchor="middle" fill="#161616" textLength="24.4" lengthAdjust="spacingAndGlyphs" >MM.1R</text>
<rect x="62.5" y="308.7" width="7.4" height="4.2" fill="#C8102E"/>
<text x="72.5" y="313.7" font-size="8.2" text-anchor="start" fill="#161616" textLength="22.2" lengthAdjust="spacingAndGlyphs" >DMSO</text>
<rect x="62.5" y="317.27" width="7.4" height="4.2" fill="#0F4D86"/>
<text x="72.5" y="322.27" font-size="8.2" text-anchor="start" fill="#161616" textLength="19.9" lengthAdjust="spacingAndGlyphs" >AM80</text>
<rect x="62.5" y="325.84" width="7.4" height="4.2" fill="#3BB54A"/>
<text x="72.5" y="330.84" font-size="8.2" text-anchor="start" fill="#161616" textLength="26.6" lengthAdjust="spacingAndGlyphs" >CD2314</text>
<rect x="62.5" y="334.41" width="7.4" height="4.2" fill="#5C2673"/>
<text x="72.5" y="339.41" font-size="8.2" text-anchor="start" fill="#161616" textLength="26.6" lengthAdjust="spacingAndGlyphs" >BMS961</text>
<rect x="62.5" y="342.98" width="7.4" height="4.2" fill="#F7941D"/>
<text x="72.5" y="347.98" font-size="8.2" text-anchor="start" fill="#161616" textLength="28.5" lengthAdjust="spacingAndGlyphs" >SR11237</text>
<line x1="127" y1="315.45" x2="164.25" y2="315.45" stroke="#262626" stroke-width="1.1" />
<text x="145.6" y="315.6" font-size="9" text-anchor="middle" fill="#161616" >*</text>
<line x1="253.75" y1="335.45" x2="292" y2="335.45" stroke="#262626" stroke-width="1.1" />
<text x="273" y="335.75" font-size="9" text-anchor="middle" fill="#161616" >**</text>
<line x1="253.75" y1="344.5" x2="280.5" y2="344.5" stroke="#262626" stroke-width="1.1" />
<text x="267.5" y="345" font-size="9" text-anchor="middle" fill="#161616" >**</text>
<line x1="383.25" y1="314.2" x2="420.75" y2="314.2" stroke="#262626" stroke-width="1.1" />
<text x="402.3" y="314.6" font-size="9" text-anchor="middle" fill="#161616" >*</text>
<text x="51" y="470.1" font-size="8.8" text-anchor="middle" fill="#161616" textLength="22" lengthAdjust="spacingAndGlyphs" >ARP-1</text>
<line x1="37" y1="471.8" x2="65.2" y2="471.8" stroke="#161616" stroke-width="0.9" />
<text x="83" y="470.1" font-size="8.8" text-anchor="middle" fill="#161616" textLength="25" lengthAdjust="spacingAndGlyphs" >MM.1S</text>
<line x1="69.2" y1="471.8" x2="97" y2="471.8" stroke="#161616" stroke-width="0.9" />
<text x="114" y="470.1" font-size="8.8" text-anchor="middle" fill="#161616" textLength="25" lengthAdjust="spacingAndGlyphs" >MM.1R</text>
<line x1="100" y1="471.8" x2="128.6" y2="471.8" stroke="#161616" stroke-width="0.9" />
<text transform="translate(30.6 500.6) rotate(-45)" font-size="8.3" fill="#161616" textLength="25.5" lengthAdjust="spacingAndGlyphs">Ctrl-KD</text>
<text transform="translate(44.7 500.6) rotate(-45)" font-size="8.3" fill="#161616" textLength="32" lengthAdjust="spacingAndGlyphs">RARγ-KD</text>
<text transform="translate(58.8 500.6) rotate(-45)" font-size="8.3" fill="#161616" textLength="25.5" lengthAdjust="spacingAndGlyphs">Ctrl-KD</text>
<text transform="translate(72.9 500.6) rotate(-45)" font-size="8.3" fill="#161616" textLength="32" lengthAdjust="spacingAndGlyphs">RARγ-KD</text>
<text transform="translate(87 500.6) rotate(-45)" font-size="8.3" fill="#161616" textLength="25.5" lengthAdjust="spacingAndGlyphs">Ctrl-KD</text>
<text transform="translate(101.1 500.6) rotate(-45)" font-size="8.3" fill="#161616" textLength="32" lengthAdjust="spacingAndGlyphs">RARγ-KD</text>
<clipPath id="cp5026"><rect x="23.6" y="502.6" width="84" height="15"/></clipPath>
<rect x="23.6" y="502.6" width="84" height="15" fill="#dedede"/>
<g clip-path="url(#cp5026)">
<ellipse cx="30.9" cy="508.9" rx="5.82" ry="1.35" fill="#050505" filter="url(#b1)"/>
<rect x="26.43" y="508" width="8.94" height="1.8" rx="0.9" ry="0.9" fill="#050505" filter="url(#b0)"/>
<rect x="41.35" y="509.5" width="7" height="2" rx="0.95" ry="0.95" fill="#555" opacity="0.1" filter="url(#b1)"/>
<ellipse cx="58.8" cy="510" rx="7.17" ry="2.05" fill="#050505" filter="url(#b1)"/>
<rect x="53.3" y="508.63" width="11.01" height="2.74" rx="1.37" ry="1.37" fill="#050505" filter="url(#b0)"/>
<rect x="69.25" y="510" width="7" height="2" rx="0.95" ry="0.95" fill="#555" opacity="0.06" filter="url(#b1)"/>
<ellipse cx="86.7" cy="511.2" rx="7.84" ry="2.38" fill="#050505" filter="url(#b1)"/>
<rect x="80.68" y="509.62" width="12.04" height="3.17" rx="1.58" ry="1.58" fill="#050505" filter="url(#b0)"/>
<rect x="96.45" y="511.3" width="8.4" height="2.2" rx="1.04" ry="1.04" fill="#333" opacity="0.45" filter="url(#b1)"/>
</g>
<rect x="23.6" y="502.6" width="84" height="15" fill="none" stroke="#151515" stroke-width="1.15"/>
<text x="110.2" y="514" font-size="8.2" fill="#161616" textLength="18.6" lengthAdjust="spacingAndGlyphs">RARγ</text>
<clipPath id="cp5213"><rect x="23.6" y="521.3" width="84" height="15"/></clipPath>
<rect x="23.6" y="521.3" width="84" height="15" fill="url(#gB)"/>
<g clip-path="url(#cp5213)">
<ellipse cx="30.9" cy="528.3" rx="5.6" ry="1.94" fill="#050505" filter="url(#b1)"/>
<rect x="26.6" y="527" width="8.6" height="2.59" rx="1.3" ry="1.3" fill="#050505" filter="url(#b0)"/>
<ellipse cx="44.85" cy="528.7" rx="5.15" ry="1.84" fill="#050505" filter="url(#b1)"/>
<rect x="40.89" y="527.48" width="7.91" height="2.45" rx="1.22" ry="1.22" fill="#050505" filter="url(#b0)"/>
<ellipse cx="58.8" cy="528.4" rx="5.6" ry="2.05" fill="#050505" filter="url(#b1)"/>
<rect x="54.5" y="527.03" width="8.6" height="2.74" rx="1.37" ry="1.37" fill="#050505" filter="url(#b0)"/>
<ellipse cx="72.75" cy="528.4" rx="6.27" ry="2.48" fill="#050505" filter="url(#b1)"/>
<rect x="67.93" y="526.74" width="9.63" height="3.31" rx="1.66" ry="1.66" fill="#050505" filter="url(#b0)"/>
<ellipse cx="86.7" cy="527.8" rx="5.38" ry="1.94" fill="#050505" filter="url(#b1)"/>
<rect x="82.57" y="526.5" width="8.26" height="2.59" rx="1.3" ry="1.3" fill="#050505" filter="url(#b0)"/>
<ellipse cx="100.65" cy="527.6" rx="6.27" ry="2.38" fill="#050505" filter="url(#b1)"/>
<rect x="95.83" y="526.02" width="9.63" height="3.17" rx="1.58" ry="1.58" fill="#050505" filter="url(#b0)"/>
</g>
<rect x="23.6" y="521.3" width="84" height="15" fill="none" stroke="#151515" stroke-width="1.15"/>
<text x="110.2" y="532.7" font-size="8.2" fill="#161616">Actin</text>
<line x1="185.5" y1="511.15" x2="185.5" y2="504.1" stroke="#C8102E" stroke-width="0.9" />
<line x1="183.6" y1="504.1" x2="187.4" y2="504.1" stroke="#C8102E" stroke-width="0.9" />
<rect x="182.3" y="511.15" width="6.4" height="25.85" fill="#C8102E"/>
<line x1="195.8" y1="511.15" x2="195.8" y2="507.04" stroke="#0F4D86" stroke-width="0.9" />
<line x1="193.9" y1="507.04" x2="197.7" y2="507.04" stroke="#0F4D86" stroke-width="0.9" />
<rect x="192.6" y="511.15" width="6.4" height="25.85" fill="#0F4D86"/>
<line x1="206.1" y1="478.25" x2="206.1" y2="466.5" stroke="#3BB54A" stroke-width="0.9" />
<line x1="204.2" y1="466.5" x2="208" y2="466.5" stroke="#3BB54A" stroke-width="0.9" />
<rect x="202.9" y="478.25" width="6.4" height="58.75" fill="#3BB54A"/>
<line x1="216.4" y1="505.86" x2="216.4" y2="503.51" stroke="#5C2673" stroke-width="0.9" />
<line x1="214.5" y1="503.51" x2="218.3" y2="503.51" stroke="#5C2673" stroke-width="0.9" />
<rect x="213.2" y="505.86" width="6.4" height="31.14" fill="#5C2673"/>
<line x1="233.6" y1="513.5" x2="233.6" y2="511.74" stroke="#C8102E" stroke-width="0.9" />
<line x1="231.7" y1="511.74" x2="235.5" y2="511.74" stroke="#C8102E" stroke-width="0.9" />
<rect x="230.4" y="513.5" width="6.4" height="23.5" fill="#C8102E"/>
<line x1="243.9" y1="514.09" x2="243.9" y2="512.91" stroke="#0F4D86" stroke-width="0.9" />
<line x1="242" y1="512.91" x2="245.8" y2="512.91" stroke="#0F4D86" stroke-width="0.9" />
<rect x="240.7" y="514.09" width="6.4" height="22.91" fill="#0F4D86"/>
<line x1="254.2" y1="472.96" x2="254.2" y2="468.26" stroke="#3BB54A" stroke-width="0.9" />
<line x1="252.3" y1="468.26" x2="256.1" y2="468.26" stroke="#3BB54A" stroke-width="0.9" />
<rect x="251" y="472.96" width="6.4" height="64.04" fill="#3BB54A"/>
<line x1="264.5" y1="508.21" x2="264.5" y2="504.1" stroke="#5C2673" stroke-width="0.9" />
<line x1="262.6" y1="504.1" x2="266.4" y2="504.1" stroke="#5C2673" stroke-width="0.9" />
<rect x="261.3" y="508.21" width="6.4" height="28.79" fill="#5C2673"/>
<line x1="281.7" y1="492.35" x2="281.7" y2="484.12" stroke="#C8102E" stroke-width="0.9" />
<line x1="279.8" y1="484.12" x2="283.6" y2="484.12" stroke="#C8102E" stroke-width="0.9" />
<rect x="278.5" y="492.35" width="6.4" height="44.65" fill="#C8102E"/>
<line x1="292" y1="497.05" x2="292" y2="490" stroke="#0F4D86" stroke-width="0.9" />
<line x1="290.1" y1="490" x2="293.9" y2="490" stroke="#0F4D86" stroke-width="0.9" />
<rect x="288.8" y="497.05" width="6.4" height="39.95" fill="#0F4D86"/>
<line x1="302.3" y1="461.8" x2="302.3" y2="455.93" stroke="#3BB54A" stroke-width="0.9" />
<line x1="300.4" y1="455.93" x2="304.2" y2="455.93" stroke="#3BB54A" stroke-width="0.9" />
<rect x="299.1" y="461.8" width="6.4" height="75.2" fill="#3BB54A"/>
<line x1="312.6" y1="486.48" x2="312.6" y2="477.66" stroke="#5C2673" stroke-width="0.9" />
<line x1="310.7" y1="477.66" x2="314.5" y2="477.66" stroke="#5C2673" stroke-width="0.9" />
<rect x="309.4" y="486.48" width="6.4" height="50.52" fill="#5C2673"/>
<line x1="178.4" y1="442.5" x2="178.4" y2="537.5" stroke="#161616" stroke-width="1.15" />
<line x1="175.1" y1="537" x2="320" y2="537" stroke="#161616" stroke-width="1.15" />
<text x="172" y="540" font-size="8.4" text-anchor="end" fill="#161616" textLength="4.32" lengthAdjust="spacingAndGlyphs" >0</text>
<line x1="175.1" y1="513.5" x2="178.4" y2="513.5" stroke="#161616" stroke-width="1.1" />
<text x="172" y="516.5" font-size="8.4" text-anchor="end" fill="#161616" textLength="8.64" lengthAdjust="spacingAndGlyphs" >20</text>
<line x1="175.1" y1="490" x2="178.4" y2="490" stroke="#161616" stroke-width="1.1" />
<text x="172" y="493" font-size="8.4" text-anchor="end" fill="#161616" textLength="8.64" lengthAdjust="spacingAndGlyphs" >40</text>
<line x1="175.1" y1="466.5" x2="178.4" y2="466.5" stroke="#161616" stroke-width="1.1" />
<text x="172" y="469.5" font-size="8.4" text-anchor="end" fill="#161616" textLength="8.64" lengthAdjust="spacingAndGlyphs" >60</text>
<line x1="175.1" y1="443" x2="178.4" y2="443" stroke="#161616" stroke-width="1.1" />
<text x="172" y="446" font-size="8.4" text-anchor="end" fill="#161616" textLength="8.64" lengthAdjust="spacingAndGlyphs" >80</text>
<text transform="translate(155.7 488.7) rotate(-90)" font-size="10" text-anchor="middle" fill="#161616" textLength="40" lengthAdjust="spacingAndGlyphs">Apoptosis %</text>
<line x1="200.8" y1="537" x2="200.8" y2="540.2" stroke="#161616" stroke-width="1.1" />
<text x="200.8" y="548.9" font-size="8.8" text-anchor="middle" fill="#161616" textLength="24.2" lengthAdjust="spacingAndGlyphs" >MM.1S</text>
<line x1="248.8" y1="537" x2="248.8" y2="540.2" stroke="#161616" stroke-width="1.1" />
<text x="248.8" y="548.9" font-size="8.8" text-anchor="middle" fill="#161616" textLength="22" lengthAdjust="spacingAndGlyphs" >ARP-1</text>
<line x1="297" y1="537" x2="297" y2="540.2" stroke="#161616" stroke-width="1.1" />
<text x="297" y="548.9" font-size="8.8" text-anchor="middle" fill="#161616" textLength="24.2" lengthAdjust="spacingAndGlyphs" >MM.1R</text>
<line x1="204.2" y1="463.8" x2="215.8" y2="463.8" stroke="#333" stroke-width="1.3" />
<text x="210" y="463.8" font-size="9.5" text-anchor="middle" fill="#161616" >*</text>
<line x1="252.3" y1="463.8" x2="263.8" y2="463.8" stroke="#333" stroke-width="1.3" />
<text x="258" y="463.8" font-size="9.5" text-anchor="middle" fill="#161616" >**</text>
<line x1="300.4" y1="452.7" x2="312" y2="452.7" stroke="#333" stroke-width="1.3" />
<text x="306" y="453" font-size="9.5" text-anchor="middle" fill="#161616" >*</text>
<rect x="337" y="440.1" width="12" height="6.6" fill="#C8102E"/>
<text x="353.4" y="446.2" font-size="8.2" text-anchor="start" fill="#161616" textLength="24.4" lengthAdjust="spacingAndGlyphs" >Ctrl-KD</text>
<rect x="337" y="453.6" width="12" height="6.6" fill="#0F4D86"/>
<text x="353.4" y="459.7" font-size="8.2" text-anchor="start" fill="#161616" textLength="29.4" lengthAdjust="spacingAndGlyphs" >RARγ-KD</text>
<rect x="337" y="467.4" width="12" height="6.6" fill="#3BB54A"/>
<text x="353.4" y="473.5" font-size="8.2" text-anchor="start" fill="#161616" textLength="24.4" lengthAdjust="spacingAndGlyphs" >Ctrl-KD</text>
<rect x="337" y="481.3" width="12" height="6.6" fill="#5C2673"/>
<text x="353.4" y="487.4" font-size="8.2" text-anchor="start" fill="#161616" textLength="29.4" lengthAdjust="spacingAndGlyphs" >RARγ-KD</text>
<line x1="386.3" y1="438" x2="386.3" y2="458.6" stroke="#161616" stroke-width="0.9" />
<line x1="386.3" y1="467.3" x2="386.3" y2="487.4" stroke="#161616" stroke-width="0.9" />
<text x="388.4" y="451.2" font-size="8" text-anchor="start" fill="#161616" textLength="10.8" lengthAdjust="spacingAndGlyphs" >Cfz</text>
<text x="388.4" y="480" font-size="8" text-anchor="start" fill="#161616" textLength="34.6" lengthAdjust="spacingAndGlyphs" >ATRA+Cfz</text>
</svg></body></html>
